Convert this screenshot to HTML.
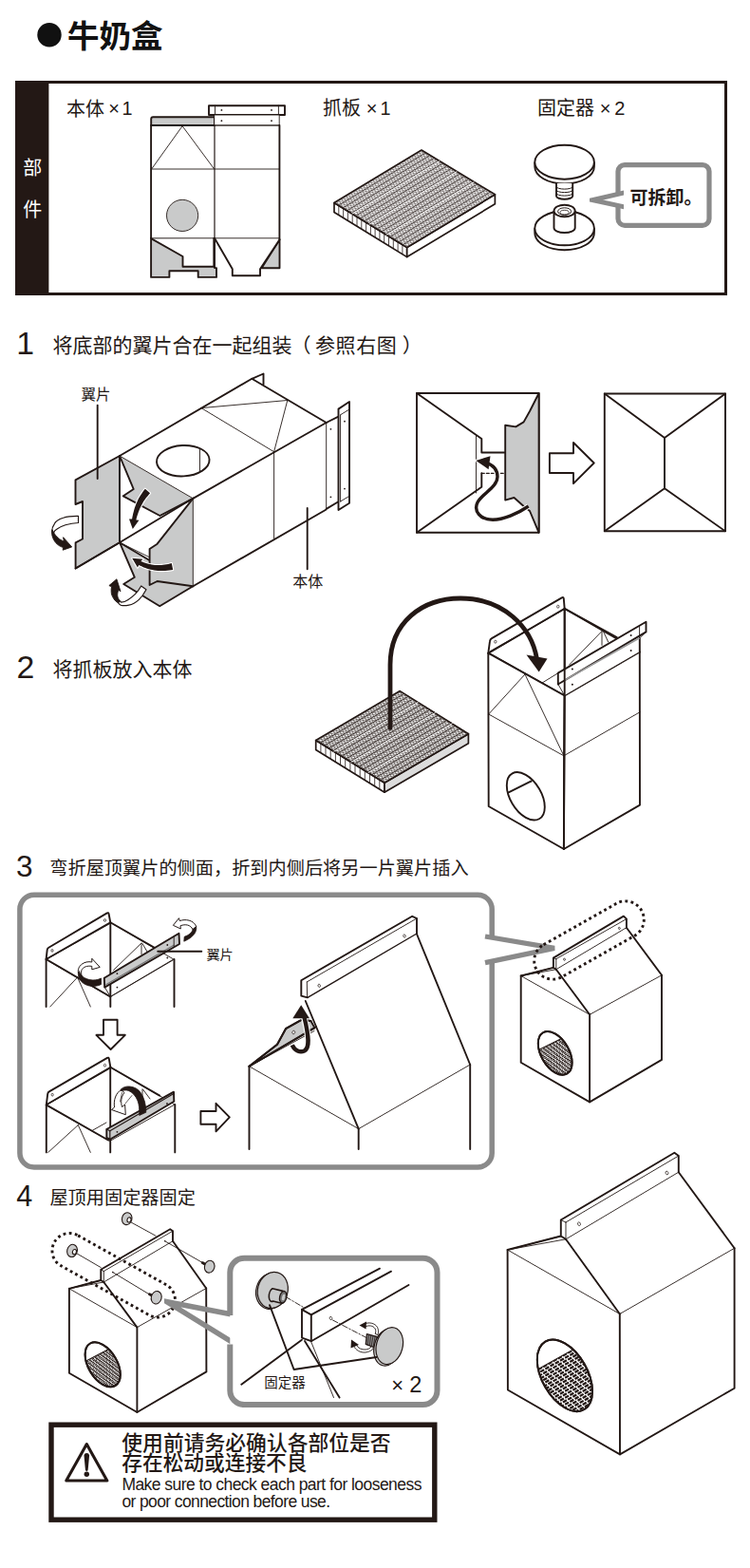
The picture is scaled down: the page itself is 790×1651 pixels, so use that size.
<!DOCTYPE html>
<html><head><meta charset="utf-8"><title>牛奶盒</title>
<style>
html,body{margin:0;padding:0;background:#fff;}
body{width:790px;height:1651px;overflow:hidden;font-family:"Liberation Sans",sans-serif;}
svg{display:block}
svg text{font-family:"Liberation Sans","Noto Sans CJK SC",sans-serif;}
</style></head><body>
<svg width="790" height="1651" viewBox="0 0 790 1651">
<rect width="790" height="1651" fill="#fff"/>
<g id="sec_top">
<circle cx="52" cy="36.7" r="12.7" fill="#111"/>
<text x="71" y="49.5" font-size="33.5" font-weight="bold" fill="#111">牛奶盒</text>
<rect x="17.5" y="86.5" width="747" height="223" fill="#fff" stroke="#231815" stroke-width="3"/>
<rect x="16" y="85" width="35.4" height="226" fill="#231815"/>
<text x="24.3" y="183.5" font-size="20" fill="#fff">部</text>
<text x="24.3" y="227.5" font-size="20" fill="#fff">件</text>
<text x="70" y="121.5" font-size="20" fill="#231815">本体</text>
<text x="120" y="121.2" font-size="20" fill="#231815" text-anchor="middle">×</text>
<text x="128.5" y="121.2" font-size="19.8" fill="#231815">1</text>
<text x="340" y="121.3" font-size="20" fill="#231815">抓板</text>
<text x="391.5" y="121.2" font-size="20" fill="#231815" text-anchor="middle">×</text>
<text x="400.5" y="121.2" font-size="19.8" fill="#231815">1</text>
<text x="566" y="121.3" font-size="20" fill="#231815">固定器</text>
<text x="637.5" y="121.2" font-size="20" fill="#231815" text-anchor="middle">×</text>
<text x="647.2" y="121.2" font-size="20" fill="#231815">2</text>
<path d="M159.2 132V125.3Q159.2 123.3 161.2 123.3H226V132Z" fill="#c9caca" stroke="#231815" stroke-width="1.9" stroke-linejoin="round" stroke-linecap="round" />
<polygon points="220,111.2 300,111.2 300,121 220,121" fill="#fff" stroke="#231815" stroke-width="1.9" stroke-linejoin="round" stroke-linecap="round" />
<line x1="226.5" y1="111.2" x2="226.5" y2="121" stroke="#231815" stroke-width="0.9" stroke-linecap="round" />
<line x1="293.4" y1="111.2" x2="293.4" y2="121" stroke="#231815" stroke-width="0.9" stroke-linecap="round" />
<polygon points="226,121 294.2,121 294.2,132 226,132" fill="#fff" stroke="#231815" stroke-width="0.9" stroke-linejoin="round" stroke-linecap="round" />
<circle cx="233.4" cy="115.9" r="0.9" fill="#231815"/>
<circle cx="286" cy="115.9" r="0.9" fill="#231815"/>
<circle cx="233.4" cy="127.2" r="0.9" fill="#231815"/>
<circle cx="286" cy="127.2" r="0.9" fill="#231815"/>
<polygon points="159.1,250.8 159.1,291.9 178.4,291.9 178.4,285.2 208.7,285.2 208.7,291.9 228,291.9 228,282.1 226,282.1 226,250.8" fill="#c9caca" stroke="none" stroke-width="0" stroke-linejoin="round" stroke-linecap="round" />
<polyline points="159.1,250.8 159.1,291.9 178.4,291.9 178.4,285.2 208.7,285.2 208.7,291.9 228,291.9 228,282.1 226,282.1 226,250.8" fill="none" stroke="#231815" stroke-width="1.9" stroke-linejoin="round" stroke-linecap="round" />
<polygon points="160,251.6 192.5,270 192.5,280.7 225.3,280.7 225.3,250.8" fill="#fff" stroke="none" stroke-width="0" stroke-linejoin="round" stroke-linecap="round" />
<polyline points="160,251.6 192.5,270 192.5,280.7 225.3,280.7 225.3,250.8" fill="none" stroke="#231815" stroke-width="1.9" stroke-linejoin="round" stroke-linecap="round" />
<polygon points="294.5,252.3 294.5,282.2 275.6,282.2" fill="#c9caca" stroke="#231815" stroke-width="1.9" stroke-linejoin="round" stroke-linecap="round" />
<polyline points="226.6,251.8 244.8,283.2 244.8,290.3 274,290.3 274,283.2 294.5,252.3" fill="#fff" stroke="#231815" stroke-width="1.9" stroke-linejoin="round" stroke-linecap="round" />
<polyline points="159.1,132 159.1,250.8" fill="none" stroke="#231815" stroke-width="1.9" stroke-linejoin="round" stroke-linecap="round" />
<polyline points="294.4,132 294.4,252" fill="none" stroke="#231815" stroke-width="1.9" stroke-linejoin="round" stroke-linecap="round" />
<line x1="159.1" y1="132" x2="294.4" y2="132" stroke="#231815" stroke-width="0.9" stroke-linecap="round" />
<line x1="226" y1="132" x2="226" y2="251" stroke="#231815" stroke-width="1.2" stroke-linecap="round" />
<line x1="159.1" y1="178" x2="294.4" y2="178" stroke="#231815" stroke-width="0.9" stroke-linecap="round" />
<line x1="159.1" y1="250.8" x2="294.4" y2="250.8" stroke="#231815" stroke-width="0.9" stroke-linecap="round" />
<polyline points="160,177.5 192.1,132.7 225.5,177.8" fill="none" stroke="#231815" stroke-width="0.9" stroke-linejoin="round" stroke-linecap="round" />
<circle cx="192.1" cy="226.9" r="16.6" fill="#c9caca" stroke="#231815" stroke-width="0.9"/>
<polygon points="352,213.5 428.7,260.6 428.7,270.6 352,223.5" fill="#fff" stroke="#231815" stroke-width="1.7" stroke-linejoin="round" stroke-linecap="round" />
<polygon points="428.7,260.6 521.4,204.8 521.4,214.8 428.7,270.6" fill="#fff" stroke="#231815" stroke-width="1.7" stroke-linejoin="round" stroke-linecap="round" />
<path d="M356.8 216.4v10M361.6 219.4v10M366.4 222.3v10M371.2 225.3v10M376 228.2v10M380.8 231.2v10M385.6 234.1v10M390.4 237.1v10M395.1 240v10M399.9 242.9v10M404.7 245.9v10M409.5 248.8v10M414.3 251.8v10M419.1 254.7v10M423.9 257.7v10" stroke="#231815" stroke-width="0.8" fill="none"/>
<polygon points="352,213.5 444,158 521.4,204.8 428.7,260.6" fill="#fff" stroke="#231815" stroke-width="1.7" stroke-linejoin="round" stroke-linecap="round" />
<path d="M356.5 216.3L448.5 160.8M361 219L453 163.5M365.5 221.8L457.5 166.3M370 224.6L462 169.1M374.6 227.4L466.6 171.9M379.1 230.1L471.1 174.6M383.6 232.9L475.6 177.4M388.1 235.7L480.1 180.2M392.6 238.4L484.6 182.9M397.1 241.2L489.1 185.7M401.6 244L493.6 188.5M406.1 246.7L498.1 191.2M410.7 249.5L502.7 194M415.2 252.3L507.2 196.8M419.7 255.1L511.7 199.6M424.2 257.8L516.2 202.3" stroke="#231815" stroke-width="0.7" fill="none"/>
<path d="M352 213.5L359.1 214.7L357.1 210.4L364.2 211.6L362.2 207.3L369.3 208.6L367.3 204.2L374.4 205.5L372.4 201.2L379.5 202.4L377.6 198.1L384.6 199.3L382.7 195L389.7 196.2L387.8 191.9L394.8 193.1L392.9 188.8L400 190.1L398 185.8L405.1 187L403.1 182.7L410.2 183.9L408.2 179.6L415.3 180.8L413.3 176.5L420.4 177.7L418.4 173.4L425.5 174.6L423.6 170.3L430.6 171.6L428.7 167.2L435.7 168.5L433.8 164.2L440.8 165.4L438.9 161.1L446 162.3L444 158M356.5 216.3L354.6 212L361.6 213.2L359.7 208.9L366.7 210.1L364.8 205.8L371.8 207L369.9 202.7L377 203.9L375 199.6L382.1 200.9L380.1 196.5L387.2 197.8L385.2 193.5L392.3 194.7L390.3 190.4L397.4 191.6L395.4 187.3L402.5 188.5L400.6 184.2L407.6 185.4L405.7 181.1L412.7 182.4L410.8 178L417.8 179.3L415.9 175L423 176.2L421 171.9L428.1 173.1L426.1 168.8L433.2 170L431.2 165.7L438.3 166.9L436.3 162.6L443.4 163.9L441.4 159.5L448.5 160.8M356.5 216.3L363.6 217.5L361.6 213.2L368.7 214.4L366.7 210.1L373.8 211.3L371.8 207L378.9 208.2L377 203.9L384 205.2L382.1 200.9L389.1 202.1L387.2 197.8L394.2 199L392.3 194.7L399.4 195.9L397.4 191.6L404.5 192.8L402.5 188.5L409.6 189.7L407.6 185.4L414.7 186.7L412.7 182.4L419.8 183.6L417.8 179.3L424.9 180.5L423 176.2L430 177.4L428.1 173.1L435.1 174.3L433.2 170L440.2 171.2L438.3 166.9L445.4 168.2L443.4 163.9L450.5 165.1L448.5 160.8M361 219L359.1 214.7L366.1 216L364.2 211.6L371.2 212.9L369.3 208.6L376.4 209.8L374.4 205.5L381.5 206.7L379.5 202.4L386.6 203.6L384.6 199.3L391.7 200.5L389.7 196.2L396.8 197.5L394.8 193.1L401.9 194.4L400 190.1L407 191.3L405.1 187L412.1 188.2L410.2 183.9L417.2 185.1L415.3 180.8L422.4 182L420.4 177.7L427.5 179L425.5 174.6L432.6 175.9L430.6 171.6L437.7 172.8L435.7 168.5L442.8 169.7L440.8 165.4L447.9 166.6L446 162.3L453 163.5M361 219L368.1 220.3L366.1 216L373.2 217.2L371.2 212.9L378.3 214.1L376.4 209.8L383.4 211L381.5 206.7L388.5 207.9L386.6 203.6L393.6 204.9L391.7 200.5L398.8 201.8L396.8 197.5L403.9 198.7L401.9 194.4L409 195.6L407 191.3L414.1 192.5L412.1 188.2L419.2 189.4L417.2 185.1L424.3 186.4L422.4 182L429.4 183.3L427.5 179L434.5 180.2L432.6 175.9L439.6 177.1L437.7 172.8L444.8 174L442.8 169.7L449.9 170.9L447.9 166.6L455 167.9L453 163.5M365.5 221.8L363.6 217.5L370.6 218.7L368.7 214.4L375.8 215.6L373.8 211.3L380.9 212.6L378.9 208.2L386 209.5L384 205.2L391.1 206.4L389.1 202.1L396.2 203.3L394.2 199L401.3 200.2L399.4 195.9L406.4 197.1L404.5 192.8L411.5 194.1L409.6 189.7L416.6 191L414.7 186.7L421.8 187.9L419.8 183.6L426.9 184.8L424.9 180.5L432 181.7L430 177.4L437.1 178.6L435.1 174.3L442.2 175.6L440.2 171.2L447.3 172.5L445.4 168.2L452.4 169.4L450.5 165.1L457.5 166.3M365.5 221.8L372.6 223L370.6 218.7L377.7 220L375.8 215.6L382.8 216.9L380.9 212.6L387.9 213.8L386 209.5L393 210.7L391.1 206.4L398.2 207.6L396.2 203.3L403.3 204.5L401.3 200.2L408.4 201.5L406.4 197.1L413.5 198.4L411.5 194.1L418.6 195.3L416.6 191L423.7 192.2L421.8 187.9L428.8 189.1L426.9 184.8L433.9 186L432 181.7L439 183L437.1 178.6L444.2 179.9L442.2 175.6L449.3 176.8L447.3 172.5L454.4 173.7L452.4 169.4L459.5 170.6L457.5 166.3M370 224.6L368.1 220.3L375.2 221.5L373.2 217.2L380.3 218.4L378.3 214.1L385.4 215.3L383.4 211L390.5 212.2L388.5 207.9L395.6 209.2L393.6 204.9L400.7 206.1L398.8 201.8L405.8 203L403.9 198.7L410.9 199.9L409 195.6L416 196.8L414.1 192.5L421.2 193.7L419.2 189.4L426.3 190.7L424.3 186.4L431.4 187.6L429.4 183.3L436.5 184.5L434.5 180.2L441.6 181.4L439.6 177.1L446.7 178.3L444.8 174L451.8 175.2L449.9 170.9L456.9 172.2L455 167.9L462 169.1M370 224.6L377.1 225.8L375.2 221.5L382.2 222.7L380.3 218.4L387.3 219.6L385.4 215.3L392.4 216.6L390.5 212.2L397.6 213.5L395.6 209.2L402.7 210.4L400.7 206.1L407.8 207.3L405.8 203L412.9 204.2L410.9 199.9L418 201.1L416 196.8L423.1 198.1L421.2 193.7L428.2 195L426.3 190.7L433.3 191.9L431.4 187.6L438.4 188.8L436.5 184.5L443.6 185.7L441.6 181.4L448.7 182.6L446.7 178.3L453.8 179.6L451.8 175.2L458.9 176.5L456.9 172.2L464 173.4L462 169.1M374.6 227.4L372.6 223L379.7 224.3L377.7 220L384.8 221.2L382.8 216.9L389.9 218.1L387.9 213.8L395 215L393 210.7L400.1 211.9L398.2 207.6L405.2 208.9L403.3 204.5L410.3 205.8L408.4 201.5L415.4 202.7L413.5 198.4L420.6 199.6L418.6 195.3L425.7 196.5L423.7 192.2L430.8 193.4L428.8 189.1L435.9 190.4L433.9 186L441 187.3L439 183L446.1 184.2L444.2 179.9L451.2 181.1L449.3 176.8L456.3 178L454.4 173.7L461.4 174.9L459.5 170.6L466.6 171.9M374.6 227.4L381.6 228.6L379.7 224.3L386.7 225.5L384.8 221.2L391.8 222.4L389.9 218.1L397 219.3L395 215L402.1 216.2L400.1 211.9L407.2 213.2L405.2 208.9L412.3 210.1L410.3 205.8L417.4 207L415.4 202.7L422.5 203.9L420.6 199.6L427.6 200.8L425.7 196.5L432.7 197.7L430.8 193.4L437.8 194.7L435.9 190.4L443 191.6L441 187.3L448.1 188.5L446.1 184.2L453.2 185.4L451.2 181.1L458.3 182.3L456.3 178L463.4 179.2L461.4 174.9L468.5 176.2L466.6 171.9M379.1 230.1L377.1 225.8L384.2 227L382.2 222.7L389.3 224L387.3 219.6L394.4 220.9L392.4 216.6L399.5 217.8L397.6 213.5L404.6 214.7L402.7 210.4L409.7 211.6L407.8 207.3L414.8 208.5L412.9 204.2L420 205.5L418 201.1L425.1 202.4L423.1 198.1L430.2 199.3L428.2 195L435.3 196.2L433.3 191.9L440.4 193.1L438.4 188.8L445.5 190L443.6 185.7L450.6 187L448.7 182.6L455.7 183.9L453.8 179.6L460.8 180.8L458.9 176.5L466 177.7L464 173.4L471.1 174.6M379.1 230.1L386.1 231.4L384.2 227L391.2 228.3L389.3 224L396.4 225.2L394.4 220.9L401.5 222.1L399.5 217.8L406.6 219L404.6 214.7L411.7 215.9L409.7 211.6L416.8 212.9L414.8 208.5L421.9 209.8L420 205.5L427 206.7L425.1 202.4L432.1 203.6L430.2 199.3L437.2 200.5L435.3 196.2L442.4 197.4L440.4 193.1L447.5 194.4L445.5 190L452.6 191.3L450.6 187L457.7 188.2L455.7 183.9L462.8 185.1L460.8 180.8L467.9 182L466 177.7L473 178.9L471.1 174.6M383.6 232.9L381.6 228.6L388.7 229.8L386.7 225.5L393.8 226.7L391.8 222.4L398.9 223.6L397 219.3L404 220.6L402.1 216.2L409.1 217.5L407.2 213.2L414.2 214.4L412.3 210.1L419.4 211.3L417.4 207L424.5 208.2L422.5 203.9L429.6 205.1L427.6 200.8L434.7 202.1L432.7 197.7L439.8 199L437.8 194.7L444.9 195.9L443 191.6L450 192.8L448.1 188.5L455.1 189.7L453.2 185.4L460.2 186.6L458.3 182.3L465.4 183.6L463.4 179.2L470.5 180.5L468.5 176.2L475.6 177.4M383.6 232.9L390.6 234.1L388.7 229.8L395.8 231L393.8 226.7L400.9 228L398.9 223.6L406 224.9L404 220.6L411.1 221.8L409.1 217.5L416.2 218.7L414.2 214.4L421.3 215.6L419.4 211.3L426.4 212.5L424.5 208.2L431.5 209.5L429.6 205.1L436.6 206.4L434.7 202.1L441.8 203.3L439.8 199L446.9 200.2L444.9 195.9L452 197.1L450 192.8L457.1 194L455.1 189.7L462.2 191L460.2 186.6L467.3 187.9L465.4 183.6L472.4 184.8L470.5 180.5L477.5 181.7L475.6 177.4M388.1 235.7L386.1 231.4L393.2 232.6L391.2 228.3L398.3 229.5L396.4 225.2L403.4 226.4L401.5 222.1L408.5 223.3L406.6 219L413.6 220.2L411.7 215.9L418.8 217.2L416.8 212.9L423.9 214.1L421.9 209.8L429 211L427 206.7L434.1 207.9L432.1 203.6L439.2 204.8L437.2 200.5L444.3 201.7L442.4 197.4L449.4 198.7L447.5 194.4L454.5 195.6L452.6 191.3L459.6 192.5L457.7 188.2L464.8 189.4L462.8 185.1L469.9 186.3L467.9 182L475 183.2L473 178.9L480.1 180.2M388.1 235.7L395.2 236.9L393.2 232.6L400.3 233.8L398.3 229.5L405.4 230.7L403.4 226.4L410.5 227.6L408.5 223.3L415.6 224.6L413.6 220.2L420.7 221.5L418.8 217.2L425.8 218.4L423.9 214.1L430.9 215.3L429 211L436.1 212.2L434.1 207.9L441.2 209.1L439.2 204.8L446.3 206.1L444.3 201.7L451.4 203L449.4 198.7L456.5 199.9L454.5 195.6L461.6 196.8L459.6 192.5L466.7 193.7L464.8 189.4L471.8 190.6L469.9 186.3L476.9 187.6L475 183.2L482.1 184.5L480.1 180.2M392.6 238.4L390.6 234.1L397.7 235.4L395.8 231L402.8 232.3L400.9 228L407.9 229.2L406 224.9L413.1 226.1L411.1 221.8L418.2 223L416.2 218.7L423.3 219.9L421.3 215.6L428.4 216.9L426.4 212.5L433.5 213.8L431.5 209.5L438.6 210.7L436.6 206.4L443.7 207.6L441.8 203.3L448.8 204.5L446.9 200.2L453.9 201.4L452 197.1L459.1 198.4L457.1 194L464.2 195.3L462.2 191L469.3 192.2L467.3 187.9L474.4 189.1L472.4 184.8L479.5 186L477.5 181.7L484.6 182.9M392.6 238.4L399.7 239.7L397.7 235.4L404.8 236.6L402.8 232.3L409.9 233.5L407.9 229.2L415 230.4L413.1 226.1L420.1 227.3L418.2 223L425.2 224.2L423.3 219.9L430.3 221.2L428.4 216.9L435.5 218.1L433.5 213.8L440.6 215L438.6 210.7L445.7 211.9L443.7 207.6L450.8 208.8L448.8 204.5L455.9 205.7L453.9 201.4L461 202.7L459.1 198.4L466.1 199.6L464.2 195.3L471.2 196.5L469.3 192.2L476.3 193.4L474.4 189.1L481.5 190.3L479.5 186L486.6 187.2L484.6 182.9M397.1 241.2L395.2 236.9L402.2 238.1L400.3 233.8L407.3 235L405.4 230.7L412.5 232L410.5 227.6L417.6 228.9L415.6 224.6L422.7 225.8L420.7 221.5L427.8 222.7L425.8 218.4L432.9 219.6L430.9 215.3L438 216.5L436.1 212.2L443.1 213.5L441.2 209.1L448.2 210.4L446.3 206.1L453.3 207.3L451.4 203L458.5 204.2L456.5 199.9L463.6 201.1L461.6 196.8L468.7 198L466.7 193.7L473.8 195L471.8 190.6L478.9 191.9L476.9 187.6L484 188.8L482.1 184.5L489.1 185.7M397.1 241.2L404.2 242.4L402.2 238.1L409.3 239.4L407.3 235L414.4 236.3L412.5 232L419.5 233.2L417.6 228.9L424.6 230.1L422.7 225.8L429.7 227L427.8 222.7L434.9 223.9L432.9 219.6L440 220.9L438 216.5L445.1 217.8L443.1 213.5L450.2 214.7L448.2 210.4L455.3 211.6L453.3 207.3L460.4 208.5L458.5 204.2L465.5 205.4L463.6 201.1L470.6 202.4L468.7 198L475.7 199.3L473.8 195L480.9 196.2L478.9 191.9L486 193.1L484 188.8L491.1 190L489.1 185.7M401.6 244L399.7 239.7L406.7 240.9L404.8 236.6L411.9 237.8L409.9 233.5L417 234.7L415 230.4L422.1 231.6L420.1 227.3L427.2 228.6L425.2 224.2L432.3 225.5L430.3 221.2L437.4 222.4L435.5 218.1L442.5 219.3L440.6 215L447.6 216.2L445.7 211.9L452.7 213.1L450.8 208.8L457.9 210.1L455.9 205.7L463 207L461 202.7L468.1 203.9L466.1 199.6L473.2 200.8L471.2 196.5L478.3 197.7L476.3 193.4L483.4 194.6L481.5 190.3L488.5 191.6L486.6 187.2L493.6 188.5M401.6 244L408.7 245.2L406.7 240.9L413.8 242.1L411.9 237.8L418.9 239L417 234.7L424 236L422.1 231.6L429.1 232.9L427.2 228.6L434.3 229.8L432.3 225.5L439.4 226.7L437.4 222.4L444.5 223.6L442.5 219.3L449.6 220.5L447.6 216.2L454.7 217.5L452.7 213.1L459.8 214.4L457.9 210.1L464.9 211.3L463 207L470 208.2L468.1 203.9L475.1 205.1L473.2 200.8L480.3 202L478.3 197.7L485.4 199L483.4 194.6L490.5 195.9L488.5 191.6L495.6 192.8L493.6 188.5M406.1 246.7L404.2 242.4L411.3 243.7L409.3 239.4L416.4 240.6L414.4 236.3L421.5 237.5L419.5 233.2L426.6 234.4L424.6 230.1L431.7 231.3L429.7 227L436.8 228.2L434.9 223.9L441.9 225.2L440 220.9L447 222.1L445.1 217.8L452.1 219L450.2 214.7L457.3 215.9L455.3 211.6L462.4 212.8L460.4 208.5L467.5 209.7L465.5 205.4L472.6 206.7L470.6 202.4L477.7 203.6L475.7 199.3L482.8 200.5L480.9 196.2L487.9 197.4L486 193.1L493 194.3L491.1 190L498.1 191.2M406.1 246.7L413.2 248L411.3 243.7L418.3 244.9L416.4 240.6L423.4 241.8L421.5 237.5L428.5 238.7L426.6 234.4L433.7 235.6L431.7 231.3L438.8 232.6L436.8 228.2L443.9 229.5L441.9 225.2L449 226.4L447 222.1L454.1 223.3L452.1 219L459.2 220.2L457.3 215.9L464.3 217.1L462.4 212.8L469.4 214.1L467.5 209.7L474.5 211L472.6 206.7L479.7 207.9L477.7 203.6L484.8 204.8L482.8 200.5L489.9 201.7L487.9 197.4L495 198.6L493 194.3L500.1 195.6L498.1 191.2M410.7 249.5L408.7 245.2L415.8 246.4L413.8 242.1L420.9 243.4L418.9 239L426 240.3L424 236L431.1 237.2L429.1 232.9L436.2 234.1L434.3 229.8L441.3 231L439.4 226.7L446.4 227.9L444.5 223.6L451.5 224.9L449.6 220.5L456.7 221.8L454.7 217.5L461.8 218.7L459.8 214.4L466.9 215.6L464.9 211.3L472 212.5L470 208.2L477.1 209.4L475.1 205.1L482.2 206.4L480.3 202L487.3 203.3L485.4 199L492.4 200.2L490.5 195.9L497.5 197.1L495.6 192.8L502.7 194M410.7 249.5L417.7 250.7L415.8 246.4L422.8 247.7L420.9 243.4L427.9 244.6L426 240.3L433.1 241.5L431.1 237.2L438.2 238.4L436.2 234.1L443.3 235.3L441.3 231L448.4 232.2L446.4 227.9L453.5 229.2L451.5 224.9L458.6 226.1L456.7 221.8L463.7 223L461.8 218.7L468.8 219.9L466.9 215.6L473.9 216.8L472 212.5L479.1 213.7L477.1 209.4L484.2 210.7L482.2 206.4L489.3 207.6L487.3 203.3L494.4 204.5L492.4 200.2L499.5 201.4L497.5 197.1L504.6 198.3L502.7 194M415.2 252.3L413.2 248L420.3 249.2L418.3 244.9L425.4 246.1L423.4 241.8L430.5 243L428.5 238.7L435.6 240L433.7 235.6L440.7 236.9L438.8 232.6L445.8 233.8L443.9 229.5L450.9 230.7L449 226.4L456.1 227.6L454.1 223.3L461.2 224.5L459.2 220.2L466.3 221.5L464.3 217.1L471.4 218.4L469.4 214.1L476.5 215.3L474.5 211L481.6 212.2L479.7 207.9L486.7 209.1L484.8 204.8L491.8 206L489.9 201.7L496.9 203L495 198.6L502.1 199.9L500.1 195.6L507.2 196.8M415.2 252.3L422.2 253.5L420.3 249.2L427.3 250.4L425.4 246.1L432.5 247.4L430.5 243L437.6 244.3L435.6 240L442.7 241.2L440.7 236.9L447.8 238.1L445.8 233.8L452.9 235L450.9 230.7L458 231.9L456.1 227.6L463.1 228.9L461.2 224.5L468.2 225.8L466.3 221.5L473.3 222.7L471.4 218.4L478.5 219.6L476.5 215.3L483.6 216.5L481.6 212.2L488.7 213.4L486.7 209.1L493.8 210.4L491.8 206L498.9 207.3L496.9 203L504 204.2L502.1 199.9L509.1 201.1L507.2 196.8M419.7 255.1L417.7 250.7L424.8 252L422.8 247.7L429.9 248.9L427.9 244.6L435 245.8L433.1 241.5L440.1 242.7L438.2 238.4L445.2 239.6L443.3 235.3L450.3 236.6L448.4 232.2L455.5 233.5L453.5 229.2L460.6 230.4L458.6 226.1L465.7 227.3L463.7 223L470.8 224.2L468.8 219.9L475.9 221.1L473.9 216.8L481 218.1L479.1 213.7L486.1 215L484.2 210.7L491.2 211.9L489.3 207.6L496.3 208.8L494.4 204.5L501.5 205.7L499.5 201.4L506.6 202.6L504.6 198.3L511.7 199.6M419.7 255.1L426.7 256.3L424.8 252L431.9 253.2L429.9 248.9L437 250.1L435 245.8L442.1 247L440.1 242.7L447.2 244L445.2 239.6L452.3 240.9L450.3 236.6L457.4 237.8L455.5 233.5L462.5 234.7L460.6 230.4L467.6 231.6L465.7 227.3L472.7 228.5L470.8 224.2L477.9 225.5L475.9 221.1L483 222.4L481 218.1L488.1 219.3L486.1 215L493.2 216.2L491.2 211.9L498.3 213.1L496.3 208.8L503.4 210L501.5 205.7L508.5 207L506.6 202.6L513.6 203.9L511.7 199.6M424.2 257.8L422.2 253.5L429.3 254.7L427.3 250.4L434.4 251.7L432.5 247.4L439.5 248.6L437.6 244.3L444.6 245.5L442.7 241.2L449.7 242.4L447.8 238.1L454.9 239.3L452.9 235L460 236.2L458 231.9L465.1 233.2L463.1 228.9L470.2 230.1L468.2 225.8L475.3 227L473.3 222.7L480.4 223.9L478.5 219.6L485.5 220.8L483.6 216.5L490.6 217.7L488.7 213.4L495.7 214.7L493.8 210.4L500.9 211.6L498.9 207.3L506 208.5L504 204.2L511.1 205.4L509.1 201.1L516.2 202.3M424.2 257.8L431.3 259.1L429.3 254.7L436.4 256L434.4 251.7L441.5 252.9L439.5 248.6L446.6 249.8L444.6 245.5L451.7 246.7L449.7 242.4L456.8 243.6L454.9 239.3L461.9 240.6L460 236.2L467 237.5L465.1 233.2L472.1 234.4L470.2 230.1L477.3 231.3L475.3 227L482.4 228.2L480.4 223.9L487.5 225.1L485.5 220.8L492.6 222.1L490.6 217.7L497.7 219L495.7 214.7L502.8 215.9L500.9 211.6L507.9 212.8L506 208.5L513 209.7L511.1 205.4L518.1 206.6L516.2 202.3M428.7 260.6L426.7 256.3L433.8 257.5L431.9 253.2L438.9 254.4L437 250.1L444 251.4L442.1 247L449.1 248.3L447.2 244L454.3 245.2L452.3 240.9L459.4 242.1L457.4 237.8L464.5 239L462.5 234.7L469.6 235.9L467.6 231.6L474.7 232.9L472.7 228.5L479.8 229.8L477.9 225.5L484.9 226.7L483 222.4L490 223.6L488.1 219.3L495.1 220.5L493.2 216.2L500.3 217.4L498.3 213.1L505.4 214.4L503.4 210L510.5 211.3L508.5 207L515.6 208.2L513.6 203.9L520.7 205.1" stroke="#231815" stroke-width="0.42" fill="none" stroke-linejoin="round"/>
<line x1="370.9" y1="225.1" x2="462.9" y2="169.6" stroke="#fff" stroke-width="0.8" stroke-linecap="round" />
<line x1="389" y1="236.2" x2="481" y2="180.7" stroke="#fff" stroke-width="0.8" stroke-linecap="round" />
<line x1="407" y1="247.3" x2="499" y2="191.8" stroke="#fff" stroke-width="0.8" stroke-linecap="round" />
<path d="M563.3 170.7v4.8a31.3 18 0 0 0 62.6 0v-4.8" fill="#fff" stroke="#231815" stroke-width="1.9"/>
<ellipse cx="594.6" cy="170.7" rx="31.3" ry="18" fill="#fff" stroke="#231815" stroke-width="1.9"/>
<path d="M586 193v13.5a8.6 3.2 0 0 0 17.2 0V193" fill="#fff" stroke="#231815" stroke-width="1.9"/>
<path d="M586 196.5a8.6 2.6 0 0 0 17.2 0" fill="none" stroke="#231815" stroke-width="1"/>
<path d="M586 200a8.6 2.6 0 0 0 17.2 0" fill="none" stroke="#231815" stroke-width="1"/>
<path d="M586 203.5a8.6 2.6 0 0 0 17.2 0" fill="none" stroke="#231815" stroke-width="1"/>
<path d="M563.3 240.3v5a31.3 18 0 0 0 62.6 0v-5" fill="#fff" stroke="#231815" stroke-width="1.9"/>
<ellipse cx="594.6" cy="240.3" rx="31.3" ry="18" fill="#fff" stroke="#231815" stroke-width="1.9"/>
<path d="M583.5 222v18a11.1 5 0 0 0 22.2 0v-18" fill="#fff" stroke="#231815" stroke-width="1.9"/>
<ellipse cx="594.6" cy="222" rx="11.1" ry="6.3" fill="#fff" stroke="#231815" stroke-width="1.9"/>
<ellipse cx="594.6" cy="222.6" rx="7" ry="3.8" fill="#fff" stroke="#231815" stroke-width="1"/>
<ellipse cx="594.6" cy="223.6" rx="4.6" ry="2.3" fill="none" stroke="#231815" stroke-width="0.8"/>
<path d="M651 204V180.6a7 7 0 0 1 7 -7H740a7 7 0 0 1 7 7V230.3a7 7 0 0 1 -7 7H658a7 7 0 0 1 -7 -7V217" fill="none" stroke="#8a8a8a" stroke-width="5.2"/>
<clipPath id="bubc"><rect x="621" y="190" width="36" height="40"/></clipPath>
<path d="M660 202.3L624.5 210.6L660 218.4" fill="none" stroke="#8a8a8a" stroke-width="5" stroke-linejoin="miter" stroke-miterlimit="8" clip-path="url(#bubc)"/>
<text x="663.5" y="214.5" font-size="19" font-weight="bold" fill="#231815">可拆卸。</text>
</g>
<g id="sec_s1">
<text x="17.3" y="372.9" font-size="33.8" fill="#231815">1</text>
<text x="55.5" y="370.5" font-size="21" fill="#231815">将底部的翼片合在一起组装</text>
<text x="306.5" y="370.5" font-size="21" fill="#231815">（</text>
<text x="332" y="370.5" font-size="21" fill="#231815" letter-spacing="0.6">参照右图</text>
<text x="423.7" y="370.5" font-size="21" fill="#231815">）</text>
<polygon points="126,480 265.3,398.8 343.7,445 203.3,524.8" fill="#fff" stroke="none" stroke-width="0" stroke-linejoin="round" stroke-linecap="round" />
<polyline points="126,480 265.3,398.8 343.7,445" fill="none" stroke="#231815" stroke-width="1.9" stroke-linejoin="round" stroke-linecap="round" />
<polygon points="203.3,524.8 343.7,445 343.7,535.9 343.2,536.7 203.3,617.3" fill="#fff" stroke="none" stroke-width="0" stroke-linejoin="round" stroke-linecap="round" />
<polyline points="203.3,524.8 343.7,445" fill="none" stroke="#231815" stroke-width="1.9" stroke-linejoin="round" stroke-linecap="round" />
<polyline points="343.2,536.7 203.3,617.3" fill="none" stroke="#231815" stroke-width="1.9" stroke-linejoin="round" stroke-linecap="round" />
<polyline points="265.3,398.8 277.5,393.5 277.5,404.8" fill="none" stroke="#231815" stroke-width="1.9" stroke-linejoin="round" stroke-linecap="round" />
<line x1="212" y1="429.6" x2="288.6" y2="475.7" stroke="#231815" stroke-width="0.9" stroke-linecap="round" />
<line x1="212" y1="429.6" x2="302.8" y2="421.5" stroke="#231815" stroke-width="0.9" stroke-linecap="round" />
<line x1="302.8" y1="421.5" x2="288.6" y2="475.7" stroke="#231815" stroke-width="0.9" stroke-linecap="round" />
<line x1="288.6" y1="475.7" x2="288.6" y2="567" stroke="#231815" stroke-width="0.9" stroke-linecap="round" />
<line x1="343.7" y1="445" x2="343.7" y2="535.9" stroke="#231815" stroke-width="0.9" stroke-linecap="round" />
<polyline points="343.7,445 356.5,438.7" fill="none" stroke="#231815" stroke-width="1.9" stroke-linejoin="round" stroke-linecap="round" />
<polyline points="343.7,535.9 356,528.5" fill="none" stroke="#231815" stroke-width="1.9" stroke-linejoin="round" stroke-linecap="round" />
<polygon points="356.5,430.6 368,423 368,529.8 356.5,537" fill="#fff" stroke="#231815" stroke-width="1.9" stroke-linejoin="round" stroke-linecap="round" />
<line x1="358.6" y1="437" x2="358.6" y2="528" stroke="#231815" stroke-width="0.9" stroke-linecap="round" />
<line x1="358.6" y1="436.8" x2="368" y2="431" stroke="#231815" stroke-width="0.9" stroke-linecap="round" />
<line x1="358.6" y1="528" x2="368" y2="522.3" stroke="#231815" stroke-width="0.9" stroke-linecap="round" />
<circle cx="348.4" cy="451.8" r="0.9" fill="#231815"/>
<circle cx="363" cy="443.7" r="0.9" fill="#231815"/>
<circle cx="348.4" cy="523.3" r="0.9" fill="#231815"/>
<circle cx="363" cy="514.6" r="0.9" fill="#231815"/>
<ellipse cx="192.8" cy="485.2" rx="27.8" ry="16.2" fill="#fff" stroke="#231815" stroke-width="1.9" transform="rotate(-3 192.8 485.2)"/>
<line x1="210.5" y1="472.5" x2="210.5" y2="497.4" stroke="#231815" stroke-width="0.9" stroke-linecap="round" />
<polygon points="126,480 79.5,505.4 79.5,531 87,528 87,567.5 79.6,571.4 79.6,598.5 126,571.2" fill="#c9caca" stroke="#231815" stroke-width="1.9" stroke-linejoin="round" stroke-linecap="round" />
<polygon points="126,480 140.7,515 129.8,522.3 168.4,543 203.3,524.8" fill="#c9caca" stroke="none" stroke-width="0" stroke-linejoin="round" stroke-linecap="round" />
<polyline points="126,480 140.7,515 129.8,522.3 168.4,543 203.3,524.8" fill="none" stroke="#231815" stroke-width="1.9" stroke-linejoin="round" stroke-linecap="round" />
<polyline points="126,480 203.3,524.8" fill="none" stroke="#231815" stroke-width="0.9" stroke-linejoin="round" stroke-linecap="round" />
<polygon points="126,571.2 141.8,607.8 130.2,615 168.2,638.2 203.3,617.3" fill="#c9caca" stroke="#231815" stroke-width="1.9" stroke-linejoin="round" stroke-linecap="round" />
<line x1="126" y1="571.2" x2="157.6" y2="586.8" stroke="#231815" stroke-width="0.9" stroke-linecap="round" />
<polygon points="203.3,524.8 165.6,572.7 157.6,578 157.6,616 165.6,612 203.3,617.3" fill="#c9caca" stroke="none" stroke-width="0" stroke-linejoin="round" stroke-linecap="round" />
<polyline points="203.3,524.8 165.6,572.7 157.6,578 157.6,616 165.6,612 203.3,617.3" fill="none" stroke="#231815" stroke-width="1.9" stroke-linejoin="round" stroke-linecap="round" />
<polyline points="203.3,524.8 203.3,617.3" fill="none" stroke="#231815" stroke-width="0.9" stroke-linejoin="round" stroke-linecap="round" />
<polyline points="79.6,598.5 126,571.2 203.3,524.8" fill="none" stroke="#231815" stroke-width="1.9" stroke-linejoin="round" stroke-linecap="round" />
<line x1="126" y1="480" x2="126" y2="571.2" stroke="#231815" stroke-width="1.2" stroke-linecap="round" />
<line x1="168.4" y1="543" x2="203.3" y2="525.5" stroke="#231815" stroke-width="0.9" stroke-linecap="round" />
<path d="M152.9 514.7L151.8 516.1L150.7 517.5L149.7 518.9L148.7 520.4L147.7 522L146.8 523.5L145.9 525.1L145.1 526.7L144.4 528.4L143.6 530.1L143 531.8L142.3 533.5L141.7 535.3L141.2 537.1L140.7 538.9L140.2 540.8L139.8 542.7L139.4 544.6L139.1 546.6L136 546.4L139.8 557L146.4 547.8L143.4 547.4L143.8 545.6L144.3 543.8L144.9 542.1L145.4 540.4L146 538.7L146.7 537.1L147.3 535.5L148 533.9L148.8 532.4L149.6 530.9L150.4 529.5L151.2 528.1L152.1 526.7L153 525.4L154 524.1L155 522.9L156 521.7L157 520.5L158.1 519.3Z" fill="#fff" stroke="#fff" stroke-width="2.2" stroke-linejoin="round"/><path d="M152.9 514.7L151.8 516.1L150.7 517.5L149.7 518.9L148.7 520.4L147.7 522L146.8 523.5L145.9 525.1L145.1 526.7L144.4 528.4L143.6 530.1L143 531.8L142.3 533.5L141.7 535.3L141.2 537.1L140.7 538.9L140.2 540.8L139.8 542.7L139.4 544.6L139.1 546.6L136 546.4L139.8 557L146.4 547.8L143.4 547.4L143.8 545.6L144.3 543.8L144.9 542.1L145.4 540.4L146 538.7L146.7 537.1L147.3 535.5L148 533.9L148.8 532.4L149.6 530.9L150.4 529.5L151.2 528.1L152.1 526.7L153 525.4L154 524.1L155 522.9L156 521.7L157 520.5L158.1 519.3Z" fill="#231815"/>
<path d="M180.8 593.1L178.9 593.6L177.1 594L175.3 594.3L173.5 594.6L171.7 594.8L170 594.9L168.2 595L166.5 595L164.8 595L163.1 594.9L161.4 594.7L159.7 594.4L158.1 594.1L156.4 593.7L154.7 593.3L153.1 592.8L151.5 592.2L149.9 591.6L148.3 590.9L150.5 588.7L139.2 587.8L144.9 597.6L146.2 594.9L147.9 595.8L149.6 596.6L151.4 597.4L153.2 598.1L155 598.7L156.8 599.2L158.6 599.7L160.5 600.1L162.4 600.5L164.3 600.7L166.2 600.9L168.2 601.1L170.1 601.1L172.1 601.1L174.1 601L176.1 600.8L178.2 600.6L180.2 600.3L182.2 599.9Z" fill="#fff" stroke="#fff" stroke-width="2.2" stroke-linejoin="round"/><path d="M180.8 593.1L178.9 593.6L177.1 594L175.3 594.3L173.5 594.6L171.7 594.8L170 594.9L168.2 595L166.5 595L164.8 595L163.1 594.9L161.4 594.7L159.7 594.4L158.1 594.1L156.4 593.7L154.7 593.3L153.1 592.8L151.5 592.2L149.9 591.6L148.3 590.9L150.5 588.7L139.2 587.8L144.9 597.6L146.2 594.9L147.9 595.8L149.6 596.6L151.4 597.4L153.2 598.1L155 598.7L156.8 599.2L158.6 599.7L160.5 600.1L162.4 600.5L164.3 600.7L166.2 600.9L168.2 601.1L170.1 601.1L172.1 601.1L174.1 601L176.1 600.8L178.2 600.6L180.2 600.3L182.2 599.9Z" fill="#231815"/>
<path d="M82.5 543.3C76 543.2 70 544 66.6 545.2C61 547 58 550 57.5 551.3C55.5 554 54.6 557 54.8 559.5L56.5 561C57 559.5 58.5 558 59.7 557.3C62 555.5 65 554 68.9 552.8C73 551.5 78 550.6 82.5 550.5Z" fill="#fff" stroke="#231815" stroke-width="1.2" stroke-linejoin="round" stroke-linecap="round" />
<path d="M54.8 558C54 562 55 567 59 571.8C61 574 63.5 575.5 66.5 576.5L66.2 579.2L75.7 575.9L66.6 565.7L67.3 570C64.5 569 62.5 567.5 61.3 566.4C59 564.5 57.5 562.5 56.3 560Z" fill="#231815" stroke="#231815" stroke-width="0.9" stroke-linejoin="round" stroke-linecap="round" />
<path d="M148.7 617L154 620.8C151.5 625.5 149 629 146.4 631.4C143 634.5 139.5 636.5 135.8 637.1C133 637.7 130 637.8 127.8 637.5C126.5 637 125.3 636 124.4 634.5L125.9 632.2C126.5 633.2 127 633.8 127.8 634.1C130 634 132.5 633 135 631.4C138 629.5 140.5 627.5 142.6 625.4C145 623 147 620 148.7 617Z" fill="#fff" stroke="#231815" stroke-width="1.2" stroke-linejoin="round" stroke-linecap="round" />
<path d="M124.4 634.8C122 633.5 120.3 631.5 119.1 629.2C117.8 627 117.2 625 117.2 623C117 621 117.2 619.5 117.6 617.8L114.9 616.6L122.9 609.8L127 622.7L124.8 621.2C124 623 123.6 625 123.7 626.9C124 629 124.8 630.8 125.9 632.2Z" fill="#231815" stroke="#231815" stroke-width="0.9" stroke-linejoin="round" stroke-linecap="round" />
<text x="85.5" y="421.3" font-size="15.5" fill="#231815">翼片</text>
<line x1="102.7" y1="426.8" x2="102.7" y2="504" stroke="#231815" stroke-width="1.9" stroke-linecap="round" />
<text x="308.3" y="618" font-size="16" fill="#231815">本体</text>
<line x1="323.7" y1="535" x2="323.7" y2="599.2" stroke="#231815" stroke-width="1.9" stroke-linecap="round" />
<polygon points="439,414 567.6,414 567.6,560.8 439,560.8" fill="#fff" stroke="#231815" stroke-width="1.9" stroke-linejoin="round" stroke-linecap="round" />
<polygon points="567.6,414 558,433 551.6,444.4 543.3,449.4 532.2,447.7 532.2,526.6 541.5,524 551.6,533 558,538 567.6,560.8" fill="#c9caca" stroke="#231815" stroke-width="1.9" stroke-linejoin="round" stroke-linecap="round" />
<polyline points="439,414 504.8,460.3 507.3,462 507.3,476.5 531.4,476.5" fill="none" stroke="#231815" stroke-width="1.9" stroke-linejoin="round" stroke-linecap="round" />
<polyline points="439,560.8 507.3,512.7 507.3,498.3" fill="none" stroke="#231815" stroke-width="1.9" stroke-linejoin="round" stroke-linecap="round" />
<line x1="507.3" y1="498.3" x2="531.4" y2="498.3" stroke="#231815" stroke-width="1.2" stroke-linecap="round" stroke-dasharray="3 2"/>
<line x1="501.5" y1="458.3" x2="501.5" y2="519" stroke="#231815" stroke-width="0.9" stroke-linecap="round" />
<path d="M556.7 533C545 541 530 547.3 519 547.3C506 547.3 498.5 538 503 529C507.5 520 524 513 524 502C524 494 519 489.5 512.5 487.3" fill="none" stroke="#fff" stroke-width="5.6" stroke-linecap="butt"/>
<polygon points="516.5,480.3 501.3,484.9 514.6,494.2" fill="#231815" stroke="#fff" stroke-width="2.2" stroke-linejoin="miter"/>
<path d="M556.7 533C545 541 530 547.3 519 547.3C506 547.3 498.5 538 503 529C507.5 520 524 513 524 502C524 494 519 489.5 512.5 487.3" fill="none" stroke="#231815" stroke-width="3.4" stroke-linecap="butt"/>
<polygon points="516.5,480.3 501.3,484.9 514.6,494.2" fill="#231815"/>
<polygon points="578.9,477.2 604,477.2 604,466 625.7,487.5 604,509.2 604,498 578.9,498" fill="#fff" stroke="#231815" stroke-width="1.9" stroke-linejoin="round" stroke-linecap="round" />
<polygon points="636.8,414.5 764,414.5 764,559.3 636.8,559.3" fill="#fff" stroke="#231815" stroke-width="1.9" stroke-linejoin="round" stroke-linecap="round" />
<polyline points="636.8,414.5 700,461 764,414.5" fill="none" stroke="#231815" stroke-width="1.9" stroke-linejoin="round" stroke-linecap="round" />
<polyline points="636.8,559.3 700,514.2 764,559.3" fill="none" stroke="#231815" stroke-width="1.9" stroke-linejoin="round" stroke-linecap="round" />
<polyline points="700,461 700,514.2" fill="none" stroke="#231815" stroke-width="1.9" stroke-linejoin="round" stroke-linecap="round" />
</g>
<g id="sec_s2">
<text x="17.5" y="714.4" font-size="33.8" fill="#231815">2</text>
<text x="55.5" y="712" font-size="21" fill="#231815">将抓板放入本体</text>
<polygon points="332.7,779.5 405,824.2 405,834.2 332.7,789.5" fill="#fff" stroke="#231815" stroke-width="1.7" stroke-linejoin="round" stroke-linecap="round" />
<polygon points="405,824.2 493.4,772.7 493.4,782.7 405,834.2" fill="#dcdcdc" stroke="#231815" stroke-width="1.7" stroke-linejoin="round" stroke-linecap="round" />
<path d="M337.9 782.7v10M343 785.9v10M348.2 789.1v10M353.4 792.3v10M358.5 795.5v10M363.7 798.7v10M368.9 801.9v10M374 805v10M379.2 808.2v10M384.3 811.4v10M389.5 814.6v10M394.7 817.8v10M399.8 821v10" stroke="#231815" stroke-width="0.8" fill="none"/>
<polygon points="332.7,779.5 421.3,727.6 493.4,772.7 405,824.2" fill="#fff" stroke="#231815" stroke-width="1.7" stroke-linejoin="round" stroke-linecap="round" />
<path d="M337.2 782.3L425.8 730.4M341.7 785.1L430.3 733.2M346.3 787.9L434.9 736M350.8 790.7L439.4 738.8M355.3 793.5L443.9 741.6M359.8 796.3L448.4 744.4M364.3 799.1L452.9 747.2M368.9 801.9L457.5 750M373.4 804.6L462 752.7M377.9 807.4L466.5 755.5M382.4 810.2L471 758.3M386.9 813L475.5 761.1M391.4 815.8L480 763.9M396 818.6L484.6 766.7M400.5 821.4L489.1 769.5" stroke="#231815" stroke-width="0.8" fill="none"/>
<path d="M332.7 779.5L339.8 780.8L337.9 776.4L345 777.7L343.1 773.4L350.2 774.7L348.3 770.3L355.5 771.6L353.5 767.3L360.7 768.6L358.8 764.2L365.9 765.5L364 761.2L371.1 762.4L369.2 758.1L376.3 759.4L374.4 755.1L381.5 756.3L379.6 752L386.7 753.3L384.8 749L391.9 750.2L390 745.9L397.2 747.2L395.2 742.9L402.4 744.1L400.5 739.8L407.6 741.1L405.7 736.8L412.8 738L410.9 733.7L418 735L416.1 730.7L423.2 731.9L421.3 727.6M337.2 782.3L335.3 778L342.4 779.2L340.5 774.9L347.6 776.2L345.7 771.9L352.9 773.1L350.9 768.8L358.1 770.1L356.2 765.8L363.3 767L361.4 762.7L368.5 764L366.6 759.7L373.7 760.9L371.8 756.6L378.9 757.9L377 753.5L384.1 754.8L382.2 750.5L389.3 751.8L387.4 747.4L394.5 748.7L392.6 744.4L399.8 745.7L397.8 741.3L405 742.6L403.1 738.3L410.2 739.6L408.3 735.2L415.4 736.5L413.5 732.2L420.6 733.4L418.7 729.1L425.8 730.4M337.2 782.3L344.3 783.6L342.4 779.2L349.6 780.5L347.6 776.2L354.8 777.5L352.9 773.1L360 774.4L358.1 770.1L365.2 771.3L363.3 767L370.4 768.3L368.5 764L375.6 765.2L373.7 760.9L380.8 762.2L378.9 757.9L386 759.1L384.1 754.8L391.2 756.1L389.3 751.8L396.5 753L394.5 748.7L401.7 750L399.8 745.7L406.9 746.9L405 742.6L412.1 743.9L410.2 739.6L417.3 740.8L415.4 736.5L422.5 737.8L420.6 733.4L427.7 734.7L425.8 730.4M341.7 785.1L339.8 780.8L346.9 782L345 777.7L352.2 779L350.2 774.7L357.4 775.9L355.5 771.6L362.6 772.9L360.7 768.6L367.8 769.8L365.9 765.5L373 766.8L371.1 762.4L378.2 763.7L376.3 759.4L383.4 760.7L381.5 756.3L388.6 757.6L386.7 753.3L393.9 754.6L391.9 750.2L399.1 751.5L397.2 747.2L404.3 748.5L402.4 744.1L409.5 745.4L407.6 741.1L414.7 742.3L412.8 738L419.9 739.3L418 735L425.1 736.2L423.2 731.9L430.3 733.2M341.7 785.1L348.9 786.4L346.9 782L354.1 783.3L352.2 779L359.3 780.2L357.4 775.9L364.5 777.2L362.6 772.9L369.7 774.1L367.8 769.8L374.9 771.1L373 766.8L380.1 768L378.2 763.7L385.3 765L383.4 760.7L390.6 761.9L388.6 757.6L395.8 758.9L393.9 754.6L401 755.8L399.1 751.5L406.2 752.8L404.3 748.5L411.4 749.7L409.5 745.4L416.6 746.7L414.7 742.3L421.8 743.6L419.9 739.3L427 740.6L425.1 736.2L432.3 737.5L430.3 733.2M346.3 787.9L344.3 783.6L351.5 784.8L349.6 780.5L356.7 781.8L354.8 777.5L361.9 778.7L360 774.4L367.1 775.7L365.2 771.3L372.3 772.6L370.4 768.3L377.5 769.6L375.6 765.2L382.7 766.5L380.8 762.2L388 763.5L386 759.1L393.2 760.4L391.2 756.1L398.4 757.4L396.5 753L403.6 754.3L401.7 750L408.8 751.2L406.9 746.9L414 748.2L412.1 743.9L419.2 745.1L417.3 740.8L424.4 742.1L422.5 737.8L429.6 739L427.7 734.7L434.9 736M346.3 787.9L353.4 789.1L351.5 784.8L358.6 786.1L356.7 781.8L363.8 783L361.9 778.7L369 780L367.1 775.7L374.2 776.9L372.3 772.6L379.4 773.9L377.5 769.6L384.7 770.8L382.7 766.5L389.9 767.8L388 763.5L395.1 764.7L393.2 760.4L400.3 761.7L398.4 757.4L405.5 758.6L403.6 754.3L410.7 755.6L408.8 751.2L415.9 752.5L414 748.2L421.1 749.5L419.2 745.1L426.3 746.4L424.4 742.1L431.6 743.4L429.6 739L436.8 740.3L434.9 736M350.8 790.7L348.9 786.4L356 787.6L354.1 783.3L361.2 784.6L359.3 780.2L366.4 781.5L364.5 777.2L371.6 778.5L369.7 774.1L376.8 775.4L374.9 771.1L382 772.4L380.1 768L387.3 769.3L385.3 765L392.5 766.3L390.6 761.9L397.7 763.2L395.8 758.9L402.9 760.1L401 755.8L408.1 757.1L406.2 752.8L413.3 754L411.4 749.7L418.5 751L416.6 746.7L423.7 747.9L421.8 743.6L429 744.9L427 740.6L434.2 741.8L432.3 737.5L439.4 738.8M350.8 790.7L357.9 791.9L356 787.6L363.1 788.9L361.2 784.6L368.3 785.8L366.4 781.5L373.5 782.8L371.6 778.5L378.7 779.7L376.8 775.4L384 776.7L382 772.4L389.2 773.6L387.3 769.3L394.4 770.6L392.5 766.3L399.6 767.5L397.7 763.2L404.8 764.5L402.9 760.1L410 761.4L408.1 757.1L415.2 758.4L413.3 754L420.4 755.3L418.5 751L425.7 752.3L423.7 747.9L430.9 749.2L429 744.9L436.1 746.1L434.2 741.8L441.3 743.1L439.4 738.8M355.3 793.5L353.4 789.1L360.5 790.4L358.6 786.1L365.7 787.4L363.8 783L370.9 784.3L369 780L376.1 781.3L374.2 776.9L381.4 778.2L379.4 773.9L386.6 775.2L384.7 770.8L391.8 772.1L389.9 767.8L397 769L395.1 764.7L402.2 766L400.3 761.7L407.4 762.9L405.5 758.6L412.6 759.9L410.7 755.6L417.8 756.8L415.9 752.5L423 753.8L421.1 749.5L428.3 750.7L426.3 746.4L433.5 747.7L431.6 743.4L438.7 744.6L436.8 740.3L443.9 741.6M355.3 793.5L362.4 794.7L360.5 790.4L367.6 791.7L365.7 787.4L372.8 788.6L370.9 784.3L378.1 785.6L376.1 781.3L383.3 782.5L381.4 778.2L388.5 779.5L386.6 775.2L393.7 776.4L391.8 772.1L398.9 773.4L397 769L404.1 770.3L402.2 766L409.3 767.3L407.4 762.9L414.5 764.2L412.6 759.9L419.7 761.2L417.8 756.8L425 758.1L423 753.8L430.2 755L428.3 750.7L435.4 752L433.5 747.7L440.6 748.9L438.7 744.6L445.8 745.9L443.9 741.6M359.8 796.3L357.9 791.9L365 793.2L363.1 788.9L370.2 790.2L368.3 785.8L375.4 787.1L373.5 782.8L380.7 784.1L378.7 779.7L385.9 781L384 776.7L391.1 777.9L389.2 773.6L396.3 774.9L394.4 770.6L401.5 771.8L399.6 767.5L406.7 768.8L404.8 764.5L411.9 765.7L410 761.4L417.1 762.7L415.2 758.4L422.4 759.6L420.4 755.3L427.6 756.6L425.7 752.3L432.8 753.5L430.9 749.2L438 750.5L436.1 746.1L443.2 747.4L441.3 743.1L448.4 744.4M359.8 796.3L366.9 797.5L365 793.2L372.1 794.5L370.2 790.2L377.4 791.4L375.4 787.1L382.6 788.4L380.7 784.1L387.8 785.3L385.9 781L393 782.3L391.1 777.9L398.2 779.2L396.3 774.9L403.4 776.2L401.5 771.8L408.6 773.1L406.7 768.8L413.8 770.1L411.9 765.7L419.1 767L417.1 762.7L424.3 763.9L422.4 759.6L429.5 760.9L427.6 756.6L434.7 757.8L432.8 753.5L439.9 754.8L438 750.5L445.1 751.7L443.2 747.4L450.3 748.7L448.4 744.4M364.3 799.1L362.4 794.7L369.5 796L367.6 791.7L374.8 793L372.8 788.6L380 789.9L378.1 785.6L385.2 786.8L383.3 782.5L390.4 783.8L388.5 779.5L395.6 780.7L393.7 776.4L400.8 777.7L398.9 773.4L406 774.6L404.1 770.3L411.2 771.6L409.3 767.3L416.4 768.5L414.5 764.2L421.7 765.5L419.7 761.2L426.9 762.4L425 758.1L432.1 759.4L430.2 755L437.3 756.3L435.4 752L442.5 753.3L440.6 748.9L447.7 750.2L445.8 745.9L452.9 747.2M364.3 799.1L371.5 800.3L369.5 796L376.7 797.3L374.8 793L381.9 794.2L380 789.9L387.1 791.2L385.2 786.8L392.3 788.1L390.4 783.8L397.5 785.1L395.6 780.7L402.7 782L400.8 777.7L407.9 779L406 774.6L413.1 775.9L411.2 771.6L418.4 772.8L416.4 768.5L423.6 769.8L421.7 765.5L428.8 766.7L426.9 762.4L434 763.7L432.1 759.4L439.2 760.6L437.3 756.3L444.4 757.6L442.5 753.3L449.6 754.5L447.7 750.2L454.8 751.5L452.9 747.2M368.9 801.9L366.9 797.5L374.1 798.8L372.1 794.5L379.3 795.7L377.4 791.4L384.5 792.7L382.6 788.4L389.7 789.6L387.8 785.3L394.9 786.6L393 782.3L400.1 783.5L398.2 779.2L405.3 780.5L403.4 776.2L410.5 777.4L408.6 773.1L415.8 774.4L413.8 770.1L421 771.3L419.1 767L426.2 768.3L424.3 763.9L431.4 765.2L429.5 760.9L436.6 762.2L434.7 757.8L441.8 759.1L439.9 754.8L447 756.1L445.1 751.7L452.2 753L450.3 748.7L457.5 750M368.9 801.9L376 803.1L374.1 798.8L381.2 800.1L379.3 795.7L386.4 797L384.5 792.7L391.6 794L389.7 789.6L396.8 790.9L394.9 786.6L402 787.9L400.1 783.5L407.2 784.8L405.3 780.5L412.5 781.7L410.5 777.4L417.7 778.7L415.8 774.4L422.9 775.6L421 771.3L428.1 772.6L426.2 768.3L433.3 769.5L431.4 765.2L438.5 766.5L436.6 762.2L443.7 763.4L441.8 759.1L448.9 760.4L447 756.1L454.2 757.3L452.2 753L459.4 754.3L457.5 750M373.4 804.6L371.5 800.3L378.6 801.6L376.7 797.3L383.8 798.5L381.9 794.2L389 795.5L387.1 791.2L394.2 792.4L392.3 788.1L399.4 789.4L397.5 785.1L404.6 786.3L402.7 782L409.9 783.3L407.9 779L415.1 780.2L413.1 775.9L420.3 777.2L418.4 772.8L425.5 774.1L423.6 769.8L430.7 771.1L428.8 766.7L435.9 768L434 763.7L441.1 765L439.2 760.6L446.3 761.9L444.4 757.6L451.5 758.8L449.6 754.5L456.8 755.8L454.8 751.5L462 752.7M373.4 804.6L380.5 805.9L378.6 801.6L385.7 802.9L383.8 798.5L390.9 799.8L389 795.5L396.1 796.8L394.2 792.4L401.3 793.7L399.4 789.4L406.6 790.6L404.6 786.3L411.8 787.6L409.9 783.3L417 784.5L415.1 780.2L422.2 781.5L420.3 777.2L427.4 778.4L425.5 774.1L432.6 775.4L430.7 771.1L437.8 772.3L435.9 768L443 769.3L441.1 765L448.2 766.2L446.3 761.9L453.5 763.2L451.5 758.8L458.7 760.1L456.8 755.8L463.9 757.1L462 752.7M377.9 807.4L376 803.1L383.1 804.4L381.2 800.1L388.3 801.3L386.4 797L393.5 798.3L391.6 794L398.7 795.2L396.8 790.9L403.9 792.2L402 787.9L409.2 789.1L407.2 784.8L414.4 786.1L412.5 781.7L419.6 783L417.7 778.7L424.8 780L422.9 775.6L430 776.9L428.1 772.6L435.2 773.9L433.3 769.5L440.4 770.8L438.5 766.5L445.6 767.7L443.7 763.4L450.9 764.7L448.9 760.4L456.1 761.6L454.2 757.3L461.3 758.6L459.4 754.3L466.5 755.5M377.9 807.4L385 808.7L383.1 804.4L390.2 805.7L388.3 801.3L395.4 802.6L393.5 798.3L400.6 799.5L398.7 795.2L405.9 796.5L403.9 792.2L411.1 793.4L409.2 789.1L416.3 790.4L414.4 786.1L421.5 787.3L419.6 783L426.7 784.3L424.8 780L431.9 781.2L430 776.9L437.1 778.2L435.2 773.9L442.3 775.1L440.4 770.8L447.6 772.1L445.6 767.7L452.8 769L450.9 764.7L458 766L456.1 761.6L463.2 762.9L461.3 758.6L468.4 759.9L466.5 755.5M382.4 810.2L380.5 805.9L387.6 807.2L385.7 802.9L392.8 804.1L390.9 799.8L398 801.1L396.1 796.8L403.3 798L401.3 793.7L408.5 795L406.6 790.6L413.7 791.9L411.8 787.6L418.9 788.9L417 784.5L424.1 785.8L422.2 781.5L429.3 782.8L427.4 778.4L434.5 779.7L432.6 775.4L439.7 776.6L437.8 772.3L444.9 773.6L443 769.3L450.2 770.5L448.2 766.2L455.4 767.5L453.5 763.2L460.6 764.4L458.7 760.1L465.8 761.4L463.9 757.1L471 758.3M382.4 810.2L389.5 811.5L387.6 807.2L394.7 808.4L392.8 804.1L400 805.4L398 801.1L405.2 802.3L403.3 798L410.4 799.3L408.5 795L415.6 796.2L413.7 791.9L420.8 793.2L418.9 788.9L426 790.1L424.1 785.8L431.2 787.1L429.3 782.8L436.4 784L434.5 779.7L441.6 781L439.7 776.6L446.9 777.9L444.9 773.6L452.1 774.9L450.2 770.5L457.3 771.8L455.4 767.5L462.5 768.8L460.6 764.4L467.7 765.7L465.8 761.4L472.9 762.7L471 758.3M386.9 813L385 808.7L392.1 810L390.2 805.7L397.3 806.9L395.4 802.6L402.6 803.9L400.6 799.5L407.8 800.8L405.9 796.5L413 797.8L411.1 793.4L418.2 794.7L416.3 790.4L423.4 791.7L421.5 787.3L428.6 788.6L426.7 784.3L433.8 785.5L431.9 781.2L439 782.5L437.1 778.2L444.3 779.4L442.3 775.1L449.5 776.4L447.6 772.1L454.7 773.3L452.8 769L459.9 770.3L458 766L465.1 767.2L463.2 762.9L470.3 764.2L468.4 759.9L475.5 761.1M386.9 813L394 814.3L392.1 810L399.3 811.2L397.3 806.9L404.5 808.2L402.6 803.9L409.7 805.1L407.8 800.8L414.9 802.1L413 797.8L420.1 799L418.2 794.7L425.3 796L423.4 791.7L430.5 792.9L428.6 788.6L435.7 789.9L433.8 785.5L441 786.8L439 782.5L446.2 783.8L444.3 779.4L451.4 780.7L449.5 776.4L456.6 777.7L454.7 773.3L461.8 774.6L459.9 770.3L467 771.6L465.1 767.2L472.2 768.5L470.3 764.2L477.4 765.4L475.5 761.1M391.4 815.8L389.5 811.5L396.7 812.8L394.7 808.4L401.9 809.7L400 805.4L407.1 806.7L405.2 802.3L412.3 803.6L410.4 799.3L417.5 800.6L415.6 796.2L422.7 797.5L420.8 793.2L427.9 794.4L426 790.1L433.1 791.4L431.2 787.1L438.3 788.3L436.4 784L443.6 785.3L441.6 781L448.8 782.2L446.9 777.9L454 779.2L452.1 774.9L459.2 776.1L457.3 771.8L464.4 773.1L462.5 768.8L469.6 770L467.7 765.7L474.8 767L472.9 762.7L480 763.9M391.4 815.8L398.6 817.1L396.7 812.8L403.8 814L401.9 809.7L409 811L407.1 806.7L414.2 807.9L412.3 803.6L419.4 804.9L417.5 800.6L424.6 801.8L422.7 797.5L429.8 798.8L427.9 794.4L435.1 795.7L433.1 791.4L440.3 792.7L438.3 788.3L445.5 789.6L443.6 785.3L450.7 786.6L448.8 782.2L455.9 783.5L454 779.2L461.1 780.5L459.2 776.1L466.3 777.4L464.4 773.1L471.5 774.3L469.6 770L476.7 771.3L474.8 767L482 768.2L480 763.9M396 818.6L394 814.3L401.2 815.6L399.3 811.2L406.4 812.5L404.5 808.2L411.6 809.5L409.7 805.1L416.8 806.4L414.9 802.1L422 803.3L420.1 799L427.2 800.3L425.3 796L432.4 797.2L430.5 792.9L437.7 794.2L435.7 789.9L442.9 791.1L441 786.8L448.1 788.1L446.2 783.8L453.3 785L451.4 780.7L458.5 782L456.6 777.7L463.7 778.9L461.8 774.6L468.9 775.9L467 771.6L474.1 772.8L472.2 768.5L479.4 769.8L477.4 765.4L484.6 766.7M396 818.6L403.1 819.9L401.2 815.6L408.3 816.8L406.4 812.5L413.5 813.8L411.6 809.5L418.7 810.7L416.8 806.4L423.9 807.7L422 803.3L429.1 804.6L427.2 800.3L434.4 801.6L432.4 797.2L439.6 798.5L437.7 794.2L444.8 795.5L442.9 791.1L450 792.4L448.1 788.1L455.2 789.4L453.3 785L460.4 786.3L458.5 782L465.6 783.2L463.7 778.9L470.8 780.2L468.9 775.9L476.1 777.1L474.1 772.8L481.3 774.1L479.4 769.8L486.5 771L484.6 766.7M400.5 821.4L398.6 817.1L405.7 818.4L403.8 814L410.9 815.3L409 811L416.1 812.2L414.2 807.9L421.3 809.2L419.4 804.9L426.5 806.1L424.6 801.8L431.8 803.1L429.8 798.8L437 800L435.1 795.7L442.2 797L440.3 792.7L447.4 793.9L445.5 789.6L452.6 790.9L450.7 786.6L457.8 787.8L455.9 783.5L463 784.8L461.1 780.5L468.2 781.7L466.3 777.4L473.4 778.7L471.5 774.3L478.7 775.6L476.7 771.3L483.9 772.6L482 768.2L489.1 769.5M400.5 821.4L407.6 822.7L405.7 818.4L412.8 819.6L410.9 815.3L418 816.6L416.1 812.2L423.2 813.5L421.3 809.2L428.5 810.5L426.5 806.1L433.7 807.4L431.8 803.1L438.9 804.4L437 800L444.1 801.3L442.2 797L449.3 798.2L447.4 793.9L454.5 795.2L452.6 790.9L459.7 792.1L457.8 787.8L464.9 789.1L463 784.8L470.1 786L468.2 781.7L475.4 783L473.4 778.7L480.6 779.9L478.7 775.6L485.8 776.9L483.9 772.6L491 773.8L489.1 769.5M405 824.2L403.1 819.9L410.2 821.1L408.3 816.8L415.4 818.1L413.5 813.8L420.6 815L418.7 810.7L425.8 812L423.9 807.7L431.1 808.9L429.1 804.6L436.3 805.9L434.4 801.6L441.5 802.8L439.6 798.5L446.7 799.8L444.8 795.5L451.9 796.7L450 792.4L457.1 793.7L455.2 789.4L462.3 790.6L460.4 786.3L467.5 787.6L465.6 783.2L472.8 784.5L470.8 780.2L478 781.5L476.1 777.1L483.2 778.4L481.3 774.1L488.4 775.4L486.5 771L493.6 772.3" stroke="#231815" stroke-width="0.5" fill="none" stroke-linejoin="round"/>
<line x1="351.7" y1="791.2" x2="440.3" y2="739.3" stroke="#fff" stroke-width="0.8" stroke-linecap="round" />
<line x1="369.8" y1="802.4" x2="458.4" y2="750.5" stroke="#fff" stroke-width="0.8" stroke-linecap="round" />
<line x1="387.8" y1="813.6" x2="476.4" y2="761.7" stroke="#fff" stroke-width="0.8" stroke-linecap="round" />
<polygon points="514.3,687.7 594.7,640.8 673.8,686.5 594.7,732.5" fill="#fff" stroke="#231815" stroke-width="1.9" stroke-linejoin="round" stroke-linecap="round" />
<path d="M514.3 687.7L516 675.2Q516.2 673.2 518 672.2L591.8 629.4Q593.6 628.4 593.8 630.4L594.7 640.8Z" fill="#fff" stroke="#231815" stroke-width="1.9" stroke-linejoin="round" stroke-linecap="round" />
<line x1="516.5" y1="685.5" x2="594" y2="641.8" stroke="#231815" stroke-width="0.9" stroke-linecap="round" />
<ellipse cx="521.8" cy="675.7" rx="1.2" ry="1.5" fill="#fff" stroke="#231815" stroke-width="0.7" transform="rotate(0 521.8 675.7)"/>
<ellipse cx="587.8" cy="638.7" rx="1.2" ry="1.5" fill="#fff" stroke="#231815" stroke-width="0.7" transform="rotate(0 587.8 638.7)"/>
<polyline points="594.7,640.8 649.8,671" fill="none" stroke="#231815" stroke-width="1.9" stroke-linejoin="round" stroke-linecap="round" />
<line x1="599.6" y1="700" x2="634" y2="664.6" stroke="#231815" stroke-width="0.9" stroke-linecap="round" />
<line x1="634" y1="664.6" x2="634" y2="679.4" stroke="#231815" stroke-width="0.9" stroke-linecap="round" />
<line x1="635.8" y1="665.4" x2="640.7" y2="676" stroke="#231815" stroke-width="0.9" stroke-linecap="round" />
<polyline points="594.7,640.8 594.7,732.5" fill="none" stroke="#231815" stroke-width="1.9" stroke-linejoin="round" stroke-linecap="round" />
<line x1="570" y1="719.7" x2="588" y2="708.6" stroke="#231815" stroke-width="0.9" stroke-linecap="round" />
<polygon points="514.3,687.7 594.7,732.5 593.9,894 514.7,849" fill="#fff" stroke="#231815" stroke-width="1.9" stroke-linejoin="round" stroke-linecap="round" />
<polygon points="594.7,732.5 673.8,686.5 674,847.6 593.9,894" fill="#fff" stroke="#231815" stroke-width="1.9" stroke-linejoin="round" stroke-linecap="round" />
<polyline points="588,720.5 594.7,732.5 673.8,686.5 673.6,672 680.5,665.4" fill="#fff" stroke="#231815" stroke-width="0.9" stroke-linejoin="round" stroke-linecap="round" />
<polyline points="673.8,672 673.8,686.5" fill="none" stroke="#231815" stroke-width="1.9" stroke-linejoin="round" stroke-linecap="round" />
<polygon points="587.8,708.6 680.5,654.7 680.5,665.4 587.8,720.5" fill="#fff" stroke="#231815" stroke-width="1.9" stroke-linejoin="round" stroke-linecap="round" />
<line x1="594.7" y1="716.2" x2="673.6" y2="671.8" stroke="#9a9a9a" stroke-width="1.6" stroke-linecap="round" />
<line x1="673.6" y1="658.5" x2="673.6" y2="671.5" stroke="#231815" stroke-width="0.9" stroke-linecap="round" />
<circle cx="602.9" cy="704.5" r="1" fill="#231815"/>
<circle cx="602.9" cy="720.8" r="1" fill="#231815"/>
<circle cx="664.6" cy="669" r="1" fill="#231815"/>
<circle cx="664.6" cy="685" r="1" fill="#231815"/>
<line x1="514.7" y1="752" x2="593.9" y2="795.8" stroke="#231815" stroke-width="0.9" stroke-linecap="round" />
<line x1="593.9" y1="795.8" x2="674" y2="749.8" stroke="#231815" stroke-width="0.9" stroke-linecap="round" />
<line x1="514.7" y1="752" x2="553" y2="710" stroke="#231815" stroke-width="0.9" stroke-linecap="round" />
<line x1="553" y1="710" x2="593.9" y2="795.8" stroke="#231815" stroke-width="0.9" stroke-linecap="round" />
<polyline points="594.7,640.8 594.7,732.5 593.9,894" fill="none" stroke="#231815" stroke-width="1.9" stroke-linejoin="round" stroke-linecap="round" />
<circle r="1" fill="#fff" stroke="#231815" stroke-width="1.9" vector-effect="non-scaling-stroke" transform="matrix(20 11.360 0 22.5 553.8 838.3)" />
<polyline points="535.7,834.4 559.7,822.4" fill="none" stroke="#231815" stroke-width="1.9" stroke-linejoin="round" stroke-linecap="round" />
<path d="M411 766.5V700C411 655 445 630 485 630C530 630 560 660 565.5 694" fill="none" stroke="#231815" stroke-width="4.8" stroke-linejoin="round" stroke-linecap="round" stroke-linecap="butt"/>
<polygon points="554.5,689.5 576.5,693.5 567.7,707.5" fill="#231815"/>
<path d="M551 686.5L565.5 694.5L580 690.5" fill="none" stroke="#fff" stroke-width="0"/>
</g>
<g id="sec_s3">
<text x="17" y="923.1" font-size="31.5" fill="#231815">3</text>
<text x="52.3" y="921.4" font-size="19.2" fill="#231815">弯折屋顶翼片的侧面，折到内侧后将另一片翼片插入</text>
<path d="M518.2 986V957.2A15 15 0 0 0 503.2 942.2H35.9A15 15 0 0 0 20.9 957.2V1214A15 15 0 0 0 35.9 1229H503.2A15 15 0 0 0 518.2 1214V1013.6" fill="none" stroke="#8a8a8a" stroke-width="5.5"/>
<path d="M511 986L584 998.4L511 1013.6" fill="none" stroke="#8a8a8a" stroke-width="5.2" stroke-linejoin="miter" stroke-miterlimit="2"/>
<polygon points="48.6,1010 116.3,971.3 182.8,1010 116.3,1049.5" fill="#fff" stroke="#231815" stroke-width="0.9" stroke-linejoin="round" stroke-linecap="round" />
<path d="M48.6 1010L49.7 1000.2Q49.9 998.6 51.3 997.8L112.8 961.4Q114.3 960.6 114.6 962.2L116.3 971.3Z" fill="#fff" stroke="#231815" stroke-width="1.9" stroke-linejoin="round" stroke-linecap="round" />
<line x1="50.5" y1="1009.2" x2="115.8" y2="972.5" stroke="#231815" stroke-width="0.9" stroke-linecap="round" />
<ellipse cx="55" cy="1000.9" rx="1.1" ry="1.4" fill="#fff" stroke="#231815" stroke-width="0.7" transform="rotate(0 55 1000.9)"/>
<ellipse cx="110.5" cy="969" rx="1.1" ry="1.4" fill="#fff" stroke="#231815" stroke-width="0.7" transform="rotate(0 110.5 969)"/>
<polyline points="116.3,971.3 162.7,997.9" fill="none" stroke="#231815" stroke-width="1.9" stroke-linejoin="round" stroke-linecap="round" />
<line x1="119.6" y1="1021.4" x2="149" y2="993" stroke="#231815" stroke-width="0.9" stroke-linecap="round" />
<line x1="149" y1="993.3" x2="149" y2="1004.7" stroke="#231815" stroke-width="0.9" stroke-linecap="round" />
<line x1="150" y1="993.5" x2="155" y2="1002" stroke="#231815" stroke-width="0.9" stroke-linecap="round" />
<polyline points="48.6,1010 116.3,1049.5" fill="none" stroke="#231815" stroke-width="1.9" stroke-linejoin="round" stroke-linecap="round" />
<polyline points="48.6,1010 48.6,1060" fill="none" stroke="#231815" stroke-width="1.9" stroke-linejoin="round" stroke-linecap="round" />
<polyline points="116.3,971.3 116.3,1060" fill="none" stroke="#231815" stroke-width="1.9" stroke-linejoin="round" stroke-linecap="round" />
<polyline points="183.5,1010 183.5,1060" fill="none" stroke="#231815" stroke-width="1.9" stroke-linejoin="round" stroke-linecap="round" />
<line x1="81.6" y1="1029" x2="52.8" y2="1060" stroke="#231815" stroke-width="0.9" stroke-linecap="round" />
<line x1="81.6" y1="1029" x2="95.3" y2="1060" stroke="#231815" stroke-width="0.9" stroke-linecap="round" />
<line x1="116.3" y1="1049.5" x2="182.4" y2="1010.8" stroke="#231815" stroke-width="0.9" stroke-linecap="round" />
<line x1="110.2" y1="1039.2" x2="116.3" y2="1049.5" stroke="#231815" stroke-width="0.9" stroke-linecap="round" />
<polygon points="109.8,1029.8 188.5,982.7 189,994 110.2,1039.6" fill="#c9caca" stroke="#231815" stroke-width="1.9" stroke-linejoin="round" stroke-linecap="round" />
<line x1="112" y1="1036.5" x2="183" y2="995.3" stroke="#777" stroke-width="1.3" stroke-linecap="round" />
<line x1="183.2" y1="986.5" x2="183.2" y2="997" stroke="#231815" stroke-width="0.9" stroke-linecap="round" />
<circle cx="123.4" cy="1025.2" r="0.9" fill="#231815"/>
<circle cx="123.4" cy="1039.6" r="0.9" fill="#231815"/>
<circle cx="176.3" cy="995" r="0.9" fill="#231815"/>
<circle cx="176.3" cy="1008.5" r="0.9" fill="#231815"/>
<path d="M82.4 1024.5C81.5 1019 85 1014.5 91 1013C93 1012.6 95 1012.6 96.8 1013L96.8 1009.2L105.2 1018.4L96.8 1020.8L96.8 1017.4C92 1016.6 87.5 1018 86 1021.5C85.2 1023.5 85.5 1026 86.5 1028Z" fill="#fff" stroke="#231815" stroke-width="1" stroke-linejoin="round"/>
<path d="M82.4 1024.5C82 1031 87 1036.5 94 1038C99 1039 104 1038 106.5 1036.5L106.5 1030C103 1032 98 1032.5 94 1031.5C88 1030 84.5 1027 83.5 1022.5Z" fill="#231815" stroke="#231815" stroke-width="0.8" stroke-linejoin="round"/>
<path d="M182.4 974.3L188.5 966.7L189.3 969.6C195 967.5 204 968.5 206.7 975.5L203 978.8C201 973.5 195 972.8 190 974.8L190.3 978Z" fill="#fff" stroke="#231815" stroke-width="1" stroke-linejoin="round"/>
<path d="M206.7 975.5C207.5 981 204 987 193.8 991.2L194.2 986.3C199.5 984.5 202.5 981.5 203 978.5Z" fill="#231815" stroke="#231815" stroke-width="0.8" stroke-linejoin="round"/>
<line x1="166.2" y1="1001.8" x2="212.3" y2="1001.8" stroke="#231815" stroke-width="1.9" stroke-linecap="round" />
<text x="217.4" y="1009.8" font-size="14.2" fill="#231815">翼片</text>
<polygon points="109,1073.7 123.6,1073.7 123.6,1089.8 131.8,1089.8 116.6,1105 101.4,1089.8 109,1089.8" fill="#fff" stroke="#231815" stroke-width="1.9" stroke-linejoin="round" stroke-linecap="round" />
<polygon points="48.8,1163.3 116.3,1123.8 184,1163 116,1201.3" fill="#fff" stroke="#231815" stroke-width="0.9" stroke-linejoin="round" stroke-linecap="round" />
<path d="M48.8 1163.3L50.2 1151.8Q50.4 1150.2 51.8 1149.4L113 1113.9Q114.5 1113.1 114.8 1114.7L116.4 1123.8Z" fill="#fff" stroke="#231815" stroke-width="1.9" stroke-linejoin="round" stroke-linecap="round" />
<line x1="50.7" y1="1162.4" x2="115.9" y2="1125" stroke="#231815" stroke-width="0.9" stroke-linecap="round" />
<ellipse cx="55.2" cy="1152.7" rx="1.1" ry="1.4" fill="#fff" stroke="#231815" stroke-width="0.7" transform="rotate(0 55.2 1152.7)"/>
<ellipse cx="110.5" cy="1121.7" rx="1.1" ry="1.4" fill="#fff" stroke="#231815" stroke-width="0.7" transform="rotate(0 110.5 1121.7)"/>
<polyline points="116.4,1123.8 168.2,1153.6" fill="none" stroke="#231815" stroke-width="1.9" stroke-linejoin="round" stroke-linecap="round" />
<line x1="150" y1="1147" x2="150" y2="1158" stroke="#231815" stroke-width="0.9" stroke-linecap="round" />
<line x1="150.5" y1="1147" x2="158" y2="1157" stroke="#231815" stroke-width="0.9" stroke-linecap="round" />
<polyline points="48.8,1163.3 114,1200.5" fill="none" stroke="#231815" stroke-width="1.9" stroke-linejoin="round" stroke-linecap="round" />
<polyline points="48.8,1163.3 48.8,1213.4" fill="none" stroke="#231815" stroke-width="1.9" stroke-linejoin="round" stroke-linecap="round" />
<polyline points="116.2,1123.8 116.2,1213.4" fill="none" stroke="#231815" stroke-width="1.9" stroke-linejoin="round" stroke-linecap="round" />
<polyline points="184.3,1163 184.3,1213.4" fill="none" stroke="#231815" stroke-width="1.9" stroke-linejoin="round" stroke-linecap="round" />
<line x1="82.3" y1="1184.6" x2="50.7" y2="1213.4" stroke="#231815" stroke-width="0.9" stroke-linecap="round" />
<line x1="82.3" y1="1184.6" x2="95.3" y2="1213.4" stroke="#231815" stroke-width="0.9" stroke-linecap="round" />
<line x1="97" y1="1190.5" x2="112" y2="1182" stroke="#231815" stroke-width="0.9" stroke-linecap="round" />
<polygon points="112.3,1189 183,1149.7 183.3,1159.8 115.8,1199.7 112.3,1197.8" fill="#c9caca" stroke="#231815" stroke-width="1.9" stroke-linejoin="round" stroke-linecap="round" />
<polyline points="112.3,1189 115.8,1190.8 183,1151.5" fill="none" stroke="#231815" stroke-width="1.2" stroke-linejoin="round" stroke-linecap="round" />
<line x1="115.8" y1="1190.8" x2="115.8" y2="1199.7" stroke="#231815" stroke-width="1.2" stroke-linecap="round" />
<circle cx="123.4" cy="1191.8" r="0.9" fill="#231815"/>
<circle cx="176" cy="1162" r="0.9" fill="#231815"/>
<path d="M127.5 1147.5C122 1151 119.5 1158 120.5 1166L117.5 1168.5L132.3 1173.7L131.6 1163L128.5 1165.5C127 1160 127.5 1155 131 1150.5Z" fill="#fff" stroke="#231815" stroke-width="1" stroke-linejoin="round"/>
<line x1="128.5" y1="1150.5" x2="126.5" y2="1160" stroke="#231815" stroke-width="0.7" stroke-linecap="round" />
<line x1="139" y1="1153.5" x2="132" y2="1162" stroke="#231815" stroke-width="0.7" stroke-linecap="round" />
<path d="M127.2 1147C130 1144.5 133 1143.7 136.7 1144C142 1144.5 146 1147 148.5 1151C152 1156.5 153.8 1163 153.8 1171.2L146.8 1174.4C147 1168 146.5 1163 145 1159C143 1154 139.5 1150 135.4 1148.4C132.5 1147.6 130 1147.8 127.5 1148.8Z" fill="#231815" stroke="#231815" stroke-width="0.8" stroke-linejoin="round"/>
<polygon points="211.4,1170 227.5,1170 227.5,1161.8 241.8,1176.4 227.5,1191.3 227.5,1183.7 211.4,1183.7" fill="#fff" stroke="#231815" stroke-width="1.9" stroke-linejoin="round" stroke-linecap="round" />
<polyline points="262.5,1210 262.5,1122.8" fill="none" stroke="#231815" stroke-width="1.9" stroke-linejoin="round" stroke-linecap="round" />
<polyline points="377.7,1188.6 377.7,1210" fill="none" stroke="#231815" stroke-width="1.9" stroke-linejoin="round" stroke-linecap="round" />
<polyline points="495.2,1121 495.2,1210" fill="none" stroke="#231815" stroke-width="1.9" stroke-linejoin="round" stroke-linecap="round" />
<polygon points="377.7,1188.6 321.8,1054 438.8,983 495.2,1121" fill="#fff" stroke="none" stroke-width="0" stroke-linejoin="round" stroke-linecap="round" />
<polyline points="438.8,983 495.2,1121" fill="none" stroke="#231815" stroke-width="1.9" stroke-linejoin="round" stroke-linecap="round" />
<line x1="262.5" y1="1122.8" x2="377.7" y2="1188.6" stroke="#231815" stroke-width="0.9" stroke-linecap="round" />
<line x1="377.7" y1="1188.6" x2="495.2" y2="1121" stroke="#231815" stroke-width="0.9" stroke-linecap="round" />
<polygon points="262.5,1122.8 292,1099.7 301,1083.2 318.4,1073.4 327.4,1075 331.5,1082.4" fill="#c9caca" stroke="#231815" stroke-width="1.9" stroke-linejoin="round" stroke-linecap="round" />
<polyline points="262.5,1122.8 292,1099.7 301,1083.2 318.4,1073.4 327.4,1075" fill="none" stroke="#231815" stroke-width="1.9" stroke-linejoin="round" stroke-linecap="round" />
<polyline points="262.5,1122.8 333,1081" fill="none" stroke="#231815" stroke-width="1.9" stroke-linejoin="round" stroke-linecap="round" />
<line x1="262.5" y1="1122.8" x2="331" y2="1085.5" stroke="#231815" stroke-width="0.9" stroke-linecap="round" />
<ellipse cx="309.3" cy="1087" rx="1.4" ry="1.8" fill="#fff" stroke="#231815" stroke-width="0.7" transform="rotate(20 309.3 1087)"/>
<polyline points="321.8,1054 377.7,1188.6" fill="none" stroke="#231815" stroke-width="1.9" stroke-linejoin="round" stroke-linecap="round" />
<polygon points="317.3,1032.2 434.2,964.8 439,967 439,983 324,1050.3 317.3,1048.7" fill="#fff" stroke="none" stroke-width="0" stroke-linejoin="round" stroke-linecap="round" />
<polyline points="324,1050.3 317.3,1048.7 317.3,1032.2 434.2,964.8 439,967 439,983" fill="none" stroke="#231815" stroke-width="1.9" stroke-linejoin="round" stroke-linecap="round" />
<polyline points="323.3,1033.9 439,967" fill="none" stroke="#231815" stroke-width="0.9" stroke-linejoin="round" stroke-linecap="round" />
<line x1="323.3" y1="1033.9" x2="323.6" y2="1050" stroke="#231815" stroke-width="0.9" stroke-linecap="round" />
<line x1="324" y1="1050.3" x2="439" y2="983" stroke="#231815" stroke-width="1.4" stroke-linecap="round" />
<ellipse cx="336.2" cy="1037.8" rx="1.2" ry="1.6" fill="#fff" stroke="#231815" stroke-width="0.7" transform="rotate(-20 336.2 1037.8)"/>
<ellipse cx="426" cy="985.5" rx="1.2" ry="1.6" fill="#fff" stroke="#231815" stroke-width="0.7" transform="rotate(-20 426 985.5)"/>
<path d="M307.8 1100.4C310.5 1106.5 316 1108.5 320.5 1106.5C326.5 1103.5 325.5 1092 320.5 1072" fill="none" stroke="#fff" stroke-width="6.6"/>
<polygon points="308.3,1072.3 317.2,1058.3 326,1072.3" fill="#231815" stroke="#fff" stroke-width="2"/>
<path d="M307.8 1100.4C310.5 1106.5 316 1108.5 320.5 1106.5C326.5 1103.5 325.5 1092 320.5 1071" fill="none" stroke="#231815" stroke-width="4.4"/>
<polygon points="308.3,1072.3 317.2,1058.3 326,1072.3" fill="#231815"/>
<polygon points="621.1,1068.3 585.8,1020.7 659.9,976.7 697,1026.8" fill="#fff" stroke="none" stroke-width="0" stroke-linejoin="round" stroke-linecap="round" />
<polygon points="548.7,1027.5 621.1,1068.3 621.1,1160.4 548.7,1118.7" fill="#fff" stroke="none" stroke-width="0" stroke-linejoin="round" stroke-linecap="round" />
<polygon points="621.1,1068.3 697,1026.8 697,1115.9 621.1,1160.4" fill="#fff" stroke="none" stroke-width="0" stroke-linejoin="round" stroke-linecap="round" />
<polyline points="548.7,1027.5 582.9,1018.8 585.8,1020.7 621.1,1068.3" fill="#fff" stroke="#231815" stroke-width="0.9" stroke-linejoin="round" stroke-linecap="round" />
<polyline points="548.7,1027.5 582.9,1018.8" fill="none" stroke="#231815" stroke-width="1.9" stroke-linejoin="round" stroke-linecap="round" />
<polyline points="548.7,1027.5 585.8,1020.7" fill="none" stroke="#231815" stroke-width="0.9" stroke-linejoin="round" stroke-linecap="round" />
<polyline points="585.8,1020.7 621.1,1068.3" fill="none" stroke="#231815" stroke-width="1.9" stroke-linejoin="round" stroke-linecap="round" />
<polyline points="659.9,976.7 697,1026.8" fill="none" stroke="#231815" stroke-width="1.9" stroke-linejoin="round" stroke-linecap="round" />
<line x1="548.7" y1="1027.5" x2="621.1" y2="1068.3" stroke="#231815" stroke-width="0.9" stroke-linecap="round" />
<line x1="621.1" y1="1068.3" x2="697" y2="1026.8" stroke="#231815" stroke-width="0.9" stroke-linecap="round" />
<polygon points="582.9,1008.6 656.9,964.6 659.9,967.6 659.9,976.7 585.8,1020.7 582.9,1018.8" fill="#fff" stroke="none" stroke-width="0" stroke-linejoin="round" stroke-linecap="round" />
<polyline points="585.8,1020.7 582.9,1018.8 582.9,1008.6 656.9,964.6 659.9,967.6 659.9,976.7" fill="none" stroke="#231815" stroke-width="1.9" stroke-linejoin="round" stroke-linecap="round" />
<polyline points="585.8,1009.7 659.9,967.6" fill="none" stroke="#231815" stroke-width="0.9" stroke-linejoin="round" stroke-linecap="round" />
<line x1="585.8" y1="1009.7" x2="585.8" y2="1020.7" stroke="#231815" stroke-width="0.9" stroke-linecap="round" />
<line x1="582.9" y1="1008.6" x2="585.8" y2="1009.7" stroke="#231815" stroke-width="0.9" stroke-linecap="round" />
<polyline points="585.8,1020.7 659.9,976.7" fill="none" stroke="#231815" stroke-width="0.9" stroke-linejoin="round" stroke-linecap="round" />
<ellipse cx="594.5" cy="1010.2" rx="0.9" ry="1.2" fill="#fff" stroke="#231815" stroke-width="0.7" transform="rotate(-20 594.5 1010.2)"/>
<ellipse cx="652.3" cy="977.4" rx="0.9" ry="1.2" fill="#fff" stroke="#231815" stroke-width="0.7" transform="rotate(-20 652.3 977.4)"/>
<polyline points="548.7,1027.5 548.7,1118.7 621.1,1160.4 697,1115.9 697,1026.8" fill="none" stroke="#231815" stroke-width="1.9" stroke-linejoin="round" stroke-linecap="round" />
<polyline points="621.1,1068.3 621.1,1160.4" fill="none" stroke="#231815" stroke-width="1.9" stroke-linejoin="round" stroke-linecap="round" />
<circle r="1" fill="#fff" stroke="#231815" stroke-width="1.9" vector-effect="non-scaling-stroke" transform="matrix(17.9 10.078 0 20.5 584.7 1108.9)" />
<clipPath id="hc3"><circle r="1" transform="matrix(17.9 10.078 0 20.5 584.7 1108.9)"/></clipPath>
<clipPath id="hc3p"><polygon points="562,1108.2 596,1091.2 615,1091 615,1140 562,1140"/></clipPath>
<g clip-path="url(#hc3)"><g clip-path="url(#hc3p)"><path d="M562.8 1076.6L606.6 1052M561 1079.7L606.6 1054.1M562.8 1080.8L606.6 1056.2M561 1083.9L606.6 1058.3M562.8 1085L606.6 1060.4M561 1088.1L606.6 1062.5M562.8 1089.2L606.6 1064.6M561 1092.3L606.6 1066.7M562.8 1093.4L606.6 1068.8M561 1096.5L606.6 1070.9M562.8 1097.6L606.6 1073M561 1100.7L606.6 1075.1M562.8 1101.8L606.6 1077.2M561 1104.9L606.6 1079.3M562.8 1106L606.6 1081.4M561 1109.1L606.6 1083.5M562.8 1110.2L606.6 1085.6M561 1113.3L606.6 1087.7M562.8 1114.4L606.6 1089.8M561 1117.5L606.6 1091.9M562.8 1118.6L606.6 1094M561 1121.7L606.6 1096.1M562.8 1122.8L606.6 1098.2M561 1125.9L606.6 1100.3M562.8 1127L606.6 1102.4M561 1130.1L606.6 1104.5M562.8 1131.2L606.6 1106.6M561 1134.3L606.6 1108.7M562.8 1135.4L606.6 1110.8M561 1138.5L606.6 1112.9M562.8 1139.6L606.6 1115M561 1142.7L606.6 1117.1M562.8 1143.8L606.6 1119.2M561 1146.9L606.6 1121.3M562.8 1148L606.6 1123.4M561 1151.1L606.6 1125.5M562.8 1152.2L606.6 1127.6M561 1155.3L606.6 1129.7M562.8 1156.4L606.6 1131.8M561 1159.5L606.6 1133.9M562.8 1160.6L606.6 1136M561 1163.7L606.6 1138.1M562.8 1164.8L606.6 1140.2" stroke="#231815" stroke-width="1.34" stroke-dasharray="2.73 0.84" fill="none"/></g></g>
<g clip-path="url(#hc3)"><line x1="562" y1="1108.2" x2="596" y2="1091.2" stroke="#231815" stroke-width="1.1" stroke-linecap="round" /></g>
<circle r="1" fill="none" stroke="#231815" stroke-width="1.9" vector-effect="non-scaling-stroke" transform="matrix(17.9 10.078 0 20.5 584.7 1108.9)" />
<rect x="557" y="970.5" width="127" height="39" rx="19.5" ry="19.5" fill="none" stroke="#231815" stroke-width="2.9" stroke-dasharray="2.8 3.3" transform="rotate(-29.5 620.5 990)"/>
</g>
<g id="sec_s4">
<text x="17.2" y="1270" font-size="30.5" fill="#231815">4</text>
<text x="52.4" y="1267.8" font-size="19.2" fill="#231815">屋顶用固定器固定</text>
<polygon points="144.4,1397.6 109.3,1350 182,1306.8 217.2,1356.5" fill="#fff" stroke="none" stroke-width="0" stroke-linejoin="round" stroke-linecap="round" />
<polygon points="72.9,1356.8 144.4,1397.6 144.4,1487 72.9,1445.8" fill="#fff" stroke="none" stroke-width="0" stroke-linejoin="round" stroke-linecap="round" />
<polygon points="144.4,1397.6 217.2,1356.5 217.4,1444.4 144.4,1487" fill="#fff" stroke="none" stroke-width="0" stroke-linejoin="round" stroke-linecap="round" />
<polyline points="72.9,1356.8 106.3,1348 109.3,1350 144.4,1397.6" fill="#fff" stroke="#231815" stroke-width="0.9" stroke-linejoin="round" stroke-linecap="round" />
<polyline points="72.9,1356.8 106.3,1348" fill="none" stroke="#231815" stroke-width="1.9" stroke-linejoin="round" stroke-linecap="round" />
<polyline points="72.9,1356.8 109.3,1350" fill="none" stroke="#231815" stroke-width="0.9" stroke-linejoin="round" stroke-linecap="round" />
<polyline points="109.3,1350 144.4,1397.6" fill="none" stroke="#231815" stroke-width="1.9" stroke-linejoin="round" stroke-linecap="round" />
<polyline points="182,1306.8 217.2,1356.5" fill="none" stroke="#231815" stroke-width="1.9" stroke-linejoin="round" stroke-linecap="round" />
<line x1="72.9" y1="1356.8" x2="144.4" y2="1397.6" stroke="#231815" stroke-width="0.9" stroke-linecap="round" />
<line x1="144.4" y1="1397.6" x2="217.2" y2="1356.5" stroke="#231815" stroke-width="0.9" stroke-linecap="round" />
<polygon points="106.3,1336.8 179.2,1294.2 182,1296.2 182,1306.8 109.3,1350 106.3,1348" fill="#fff" stroke="none" stroke-width="0" stroke-linejoin="round" stroke-linecap="round" />
<polyline points="109.3,1350 106.3,1348 106.3,1336.8 179.2,1294.2 182,1296.2 182,1306.8" fill="none" stroke="#231815" stroke-width="1.9" stroke-linejoin="round" stroke-linecap="round" />
<polyline points="109.3,1338.5 182,1296.2" fill="none" stroke="#231815" stroke-width="0.9" stroke-linejoin="round" stroke-linecap="round" />
<line x1="109.3" y1="1338.5" x2="109.3" y2="1350" stroke="#231815" stroke-width="0.9" stroke-linecap="round" />
<line x1="106.3" y1="1336.8" x2="109.3" y2="1338.5" stroke="#231815" stroke-width="0.9" stroke-linecap="round" />
<polyline points="109.3,1350 182,1306.8" fill="none" stroke="#231815" stroke-width="0.9" stroke-linejoin="round" stroke-linecap="round" />
<polyline points="72.9,1356.8 72.9,1445.8 144.4,1487 217.4,1444.4 217.2,1356.5" fill="none" stroke="#231815" stroke-width="1.9" stroke-linejoin="round" stroke-linecap="round" />
<polyline points="144.4,1397.6 144.4,1487" fill="none" stroke="#231815" stroke-width="1.9" stroke-linejoin="round" stroke-linecap="round" />
<circle r="1" fill="#fff" stroke="#231815" stroke-width="1.9" vector-effect="non-scaling-stroke" transform="matrix(18.6 10.490 0 21 108.2 1436.8)" />
<clipPath id="hc4a"><circle r="1" transform="matrix(18.6 10.490 0 21 108.2 1436.8)"/></clipPath>
<clipPath id="hc4ap"><polygon points="88,1434.5 117,1419.3 135,1419 135,1470 88,1470"/></clipPath>
<g clip-path="url(#hc4a)"><g clip-path="url(#hc4ap)"><path d="M85.6 1403.5L130.8 1378.2M84 1406.4L130.8 1380.1M85.6 1407.3L130.8 1382M84 1410.2L130.8 1383.9M85.6 1411.1L130.8 1385.8M84 1414L130.8 1387.7M85.6 1414.9L130.8 1389.6M84 1417.8L130.8 1391.5M85.6 1418.7L130.8 1393.4M84 1421.6L130.8 1395.3M85.6 1422.5L130.8 1397.2M84 1425.4L130.8 1399.1M85.6 1426.3L130.8 1401M84 1429.2L130.8 1402.9M85.6 1430.1L130.8 1404.8M84 1433L130.8 1406.7M85.6 1433.9L130.8 1408.6M84 1436.8L130.8 1410.5M85.6 1437.7L130.8 1412.4M84 1440.6L130.8 1414.3M85.6 1441.5L130.8 1416.2M84 1444.4L130.8 1418.1M85.6 1445.3L130.8 1420M84 1448.2L130.8 1421.9M85.6 1449.1L130.8 1423.8M84 1452L130.8 1425.7M85.6 1452.9L130.8 1427.6M84 1455.8L130.8 1429.5M85.6 1456.7L130.8 1431.4M84 1459.6L130.8 1433.3M85.6 1460.5L130.8 1435.2M84 1463.4L130.8 1437.1M85.6 1464.3L130.8 1439M84 1467.2L130.8 1440.9M85.6 1468.1L130.8 1442.8M84 1471L130.8 1444.7M85.6 1471.9L130.8 1446.6M84 1474.8L130.8 1448.5M85.6 1475.7L130.8 1450.4M84 1478.6L130.8 1452.3M85.6 1479.5L130.8 1454.2M84 1482.4L130.8 1456.1M85.6 1483.3L130.8 1458M84 1486.2L130.8 1459.9M85.6 1487.1L130.8 1461.8M84 1490L130.8 1463.7M85.6 1490.9L130.8 1465.6M84 1493.8L130.8 1467.5M85.6 1494.7L130.8 1469.4" stroke="#231815" stroke-width="1.22" stroke-dasharray="2.47 0.76" fill="none"/></g></g>
<g clip-path="url(#hc4a)"><line x1="88" y1="1434.5" x2="117" y2="1419.3" stroke="#231815" stroke-width="1.1" stroke-linecap="round" /></g>
<circle r="1" fill="none" stroke="#231815" stroke-width="1.9" vector-effect="non-scaling-stroke" transform="matrix(18.6 10.490 0 21 108.2 1436.8)" />
<line x1="137.5" y1="1286.7" x2="164" y2="1301.2" stroke="#231815" stroke-width="0.9" stroke-linecap="round" />
<line x1="173.7" y1="1306.8" x2="214.9" y2="1330.4" stroke="#231815" stroke-width="0.9" stroke-linecap="round" />
<line x1="81.2" y1="1320" x2="106.3" y2="1334.6" stroke="#231815" stroke-width="0.9" stroke-linecap="round" />
<line x1="118.8" y1="1339.6" x2="159" y2="1363.9" stroke="#231815" stroke-width="0.9" stroke-linecap="round" />
<circle cx="173.7" cy="1306.8" r="0.8" fill="#231815"/>
<circle cx="118.8" cy="1339.6" r="0.8" fill="#231815"/>
<ellipse cx="133.7" cy="1283.2" rx="5.2" ry="6.5" fill="#c9caca" stroke="#231815" stroke-width="1.1" transform="rotate(15 133.7 1283.2)"/>
<ellipse cx="136" cy="1284.4" rx="2" ry="2.6" fill="#fff" stroke="#231815" stroke-width="1.1" transform="rotate(15 136 1284.4)"/>
<ellipse cx="76" cy="1316.9" rx="5.3" ry="6.7" fill="#c9caca" stroke="#231815" stroke-width="1.1" transform="rotate(15 76 1316.9)"/>
<ellipse cx="78.4" cy="1318.1" rx="2" ry="2.6" fill="#fff" stroke="#231815" stroke-width="1.1" transform="rotate(15 78.4 1318.1)"/>
<line x1="213.2" y1="1329.6" x2="217" y2="1331.7" stroke="#231815" stroke-width="2.8" stroke-linecap="round" />
<ellipse cx="220.7" cy="1333.7" rx="5.2" ry="6.5" fill="#c9caca" stroke="#231815" stroke-width="1.1" transform="rotate(15 220.7 1333.7)"/>
<line x1="157.4" y1="1362.7" x2="161" y2="1364.6" stroke="#231815" stroke-width="2.8" stroke-linecap="round" />
<ellipse cx="164.7" cy="1366.2" rx="5.4" ry="6.8" fill="#c9caca" stroke="#231815" stroke-width="1.1" transform="rotate(15 164.7 1366.2)"/>
<rect x="48.2" y="1324.5" width="143" height="36.6" rx="18.3" ry="18.3" fill="none" stroke="#231815" stroke-width="2.9" stroke-dasharray="2.8 3.3" transform="rotate(29.2 119.7 1342.8)"/>
<clipPath id="tailc"><rect x="173" y="1350" width="90" height="80"/></clipPath>
<path d="M249.5 1384.9L176 1370.8L248.5 1415.6" fill="none" stroke="#8a8a8a" stroke-width="5.6" stroke-linejoin="miter" stroke-miterlimit="8" clip-path="url(#tailc)"/>
<path d="M242.3 1385V1339.7A15 15 0 0 1 257.3 1324.7H445.5A15 15 0 0 1 460.5 1339.7V1464A15 15 0 0 1 445.5 1479H257.3A15 15 0 0 1 242.3 1464V1415.5" fill="#fff" stroke="#8a8a8a" stroke-width="6"/>
<polyline points="254.3,1457.8 318,1410.7" fill="none" stroke="#231815" stroke-width="1.9" stroke-linejoin="round" stroke-linecap="round" />
<polyline points="321,1412 357.6,1471.5" fill="none" stroke="#231815" stroke-width="1.9" stroke-linejoin="round" stroke-linecap="round" />
<line x1="328" y1="1413.5" x2="351.5" y2="1471.5" stroke="#231815" stroke-width="0.9" stroke-linecap="round" />
<polygon points="318,1378.8 400,1335.7 412,1338.7 430.5,1353 327.8,1412.2 318,1408.6" fill="#fff" stroke="none" stroke-width="0" stroke-linejoin="round" stroke-linecap="round" />
<polyline points="400,1335.7 318,1378.8 318,1408.6 327.8,1412.2 430.5,1353" fill="none" stroke="#231815" stroke-width="1.9" stroke-linejoin="round" stroke-linecap="round" />
<polyline points="318,1378.8 327.8,1384.3 327.8,1412.2" fill="none" stroke="#231815" stroke-width="1.9" stroke-linejoin="round" stroke-linecap="round" />
<polyline points="327.8,1384.3 412,1338.7" fill="none" stroke="#231815" stroke-width="1.9" stroke-linejoin="round" stroke-linecap="round" />
<ellipse cx="348.5" cy="1388" rx="1.3" ry="1.7" fill="#fff" stroke="#231815" stroke-width="0.7" transform="rotate(-20 348.5 1388)"/>
<ellipse cx="285.6" cy="1359.3" rx="15.8" ry="19.2" fill="#c9caca" stroke="#231815" stroke-width="1.2" transform="rotate(15 285.6 1359.3)"/>
<ellipse cx="287.3" cy="1358.5" rx="15.8" ry="19.2" fill="#c9caca" stroke="#231815" stroke-width="1.2" transform="rotate(15 287.3 1358.5)"/>
<path d="M287 1356.8L298 1359.4A3.8 6.5 12 0 1 296.5 1372.3L287.6 1370A3.5 6.6 12 0 1 287 1356.8Z" fill="#c9caca" stroke="#231815" stroke-width="1.6" stroke-linejoin="round"/>
<ellipse cx="298.2" cy="1365.8" rx="3.6" ry="6.3" fill="#777" stroke="#231815" stroke-width="1.3" transform="rotate(12 298.2 1365.8)"/>
<ellipse cx="298.6" cy="1366" rx="1.6" ry="3.4" fill="#c9caca" stroke="none" transform="rotate(12 298.6 1366)"/>
<line x1="301" y1="1365.5" x2="321" y2="1377.3" stroke="#231815" stroke-width="0.9" stroke-linecap="round" stroke-dasharray="6 2 1.5 2"/>
<line x1="350.5" y1="1390" x2="386" y2="1408.5" stroke="#231815" stroke-width="0.9" stroke-linecap="round" stroke-dasharray="6 2 1.5 2"/>
<path d="M386.4 1404.7L397.5 1407.6L395 1419L385.3 1415.4Z" fill="#8a8a8a" stroke="#231815" stroke-width="1.3" stroke-linejoin="round"/>
<line x1="388.6" y1="1405.3" x2="387.2" y2="1416.1" stroke="#231815" stroke-width="0.8" stroke-linecap="round" />
<line x1="390.8" y1="1405.9" x2="389.2" y2="1416.8" stroke="#231815" stroke-width="0.8" stroke-linecap="round" />
<line x1="393" y1="1406.4" x2="391.1" y2="1417.6" stroke="#231815" stroke-width="0.8" stroke-linecap="round" />
<line x1="395.2" y1="1407" x2="393.1" y2="1418.3" stroke="#231815" stroke-width="0.8" stroke-linecap="round" />
<ellipse cx="408" cy="1418.6" rx="13.8" ry="19.8" fill="#c9caca" stroke="#231815" stroke-width="1.2" transform="rotate(15 408 1418.6)"/>
<ellipse cx="410.3" cy="1417.1" rx="13.8" ry="19.8" fill="#c9caca" stroke="#231815" stroke-width="1.2" transform="rotate(15 410.3 1417.1)"/>
<path d="M383 1394.5C388 1391.5 395 1393 397.5 1397.5C398.8 1400 398.8 1403 398 1405.5L395.2 1404.5C396 1402.5 396 1400.5 395 1398.8C393 1395.8 388.5 1395 384.5 1397Z" fill="#fff" stroke="#231815" stroke-width="0.9" stroke-linejoin="round"/>
<polygon points="378.5,1395.5 386,1391.5 385.5,1399.5" fill="#231815"/>
<path d="M372.5 1417C374.5 1421.5 379.5 1424.5 385 1424C388.5 1423.6 391.5 1422 393.5 1419.8L391.3 1417.8C389.5 1419.8 387.5 1420.8 385 1421C381 1421.3 377 1419.5 375.3 1416Z" fill="#fff" stroke="#231815" stroke-width="0.9" stroke-linejoin="round"/>
<polygon points="370,1410.5 378,1416 369.5,1419.5" fill="#231815"/>
<polyline points="284,1374.2 309.6,1442 396.5,1429" fill="none" stroke="#231815" stroke-width="1.9" stroke-linejoin="round" stroke-linecap="round" />
<text x="278.3" y="1461.2" font-size="14.5" fill="#231815">固定器</text>
<text x="418.75" y="1465.8" font-size="22" fill="#231815" text-anchor="middle">×</text>
<text x="431.3" y="1465.8" font-size="23.5" fill="#231815">2</text>
<polygon points="652.8,1383.5 596,1304.8 714.8,1234.2 773.6,1314.3" fill="#fff" stroke="none" stroke-width="0" stroke-linejoin="round" stroke-linecap="round" />
<polygon points="534.6,1316 652.8,1383.5 653,1531.4 534.9,1463.5" fill="#fff" stroke="none" stroke-width="0" stroke-linejoin="round" stroke-linecap="round" />
<polygon points="652.8,1383.5 773.6,1314.3 773.6,1461.7 653,1531.4" fill="#fff" stroke="none" stroke-width="0" stroke-linejoin="round" stroke-linecap="round" />
<polyline points="534.6,1316 590.8,1301.5 596,1304.8 652.8,1383.5" fill="#fff" stroke="#231815" stroke-width="0.9" stroke-linejoin="round" stroke-linecap="round" />
<polyline points="534.6,1316 590.8,1301.5" fill="none" stroke="#231815" stroke-width="1.9" stroke-linejoin="round" stroke-linecap="round" />
<polyline points="534.6,1316 596,1304.8" fill="none" stroke="#231815" stroke-width="0.9" stroke-linejoin="round" stroke-linecap="round" />
<polyline points="596,1304.8 652.8,1383.5" fill="none" stroke="#231815" stroke-width="1.9" stroke-linejoin="round" stroke-linecap="round" />
<polyline points="714.8,1234.2 773.6,1314.3" fill="none" stroke="#231815" stroke-width="1.9" stroke-linejoin="round" stroke-linecap="round" />
<line x1="534.6" y1="1316" x2="652.8" y2="1383.5" stroke="#231815" stroke-width="0.9" stroke-linecap="round" />
<line x1="652.8" y1="1383.5" x2="773.6" y2="1314.3" stroke="#231815" stroke-width="0.9" stroke-linecap="round" />
<polygon points="590.8,1284.5 710.4,1213.8 714.8,1217 714.8,1234.2 596,1304.8 590.8,1301.5" fill="#fff" stroke="none" stroke-width="0" stroke-linejoin="round" stroke-linecap="round" />
<polyline points="596,1304.8 590.8,1301.5 590.8,1284.5 710.4,1213.8 714.8,1217 714.8,1234.2" fill="none" stroke="#231815" stroke-width="1.9" stroke-linejoin="round" stroke-linecap="round" />
<polyline points="596,1287 714.8,1217" fill="none" stroke="#231815" stroke-width="0.9" stroke-linejoin="round" stroke-linecap="round" />
<line x1="596" y1="1287" x2="596" y2="1304.8" stroke="#231815" stroke-width="0.9" stroke-linecap="round" />
<line x1="590.8" y1="1284.5" x2="596" y2="1287" stroke="#231815" stroke-width="0.9" stroke-linecap="round" />
<polyline points="596,1304.8 714.8,1234.2" fill="none" stroke="#231815" stroke-width="0.9" stroke-linejoin="round" stroke-linecap="round" />
<ellipse cx="610" cy="1288.7" rx="1.4" ry="1.9" fill="#fff" stroke="#231815" stroke-width="0.7" transform="rotate(-20 610 1288.7)"/>
<ellipse cx="702.5" cy="1235" rx="1.4" ry="1.9" fill="#fff" stroke="#231815" stroke-width="0.7" transform="rotate(-20 702.5 1235)"/>
<polyline points="534.6,1316 534.9,1463.5 653,1531.4 773.6,1461.7 773.6,1314.3" fill="none" stroke="#231815" stroke-width="1.9" stroke-linejoin="round" stroke-linecap="round" />
<polyline points="652.8,1383.5 653,1531.4" fill="none" stroke="#231815" stroke-width="1.9" stroke-linejoin="round" stroke-linecap="round" />
<circle r="1" fill="#fff" stroke="#231815" stroke-width="1.9" vector-effect="non-scaling-stroke" transform="matrix(29.1 16.645 0 33.9 594.9 1448.3)" />
<clipPath id="hc4b"><circle r="1" transform="matrix(29.1 16.645 0 33.9 594.9 1448.3)"/></clipPath>
<clipPath id="hc4bp"><polygon points="560,1445.5 610,1417.5 640,1417.5 640,1500 560,1500"/></clipPath>
<g clip-path="url(#hc4b)"><g clip-path="url(#hc4bp)"><path d="M561.8 1396L628 1358.9M558.8 1401.2L628 1362.4M561.8 1403L628 1365.9M558.8 1408.2L628 1369.4M561.8 1410L628 1372.9M558.8 1415.2L628 1376.4M561.8 1417L628 1379.9M558.8 1422.2L628 1383.4M561.8 1424L628 1386.9M558.8 1429.2L628 1390.4M561.8 1431L628 1393.9M558.8 1436.2L628 1397.4M561.8 1438L628 1400.9M558.8 1443.2L628 1404.4M561.8 1445L628 1407.9M558.8 1450.2L628 1411.4M561.8 1452L628 1414.9M558.8 1457.2L628 1418.4M561.8 1459L628 1421.9M558.8 1464.2L628 1425.4M561.8 1466L628 1428.9M558.8 1471.2L628 1432.4M561.8 1473L628 1435.9M558.8 1478.2L628 1439.4M561.8 1480L628 1442.9M558.8 1485.2L628 1446.4M561.8 1487L628 1449.9M558.8 1492.2L628 1453.4M561.8 1494L628 1456.9M558.8 1499.2L628 1460.4M561.8 1501L628 1463.9M558.8 1506.2L628 1467.4M561.8 1508L628 1470.9M558.8 1513.2L628 1474.4M561.8 1515L628 1477.9M558.8 1520.2L628 1481.4M561.8 1522L628 1484.9M558.8 1527.2L628 1488.4M561.8 1529L628 1491.9M558.8 1534.2L628 1495.4M561.8 1536L628 1498.9" stroke="#231815" stroke-width="2.24" stroke-dasharray="4.55 1.40" fill="none"/></g></g>
<g clip-path="url(#hc4b)"><line x1="560" y1="1445.5" x2="610" y2="1417.5" stroke="#231815" stroke-width="1.1" stroke-linecap="round" /></g>
<circle r="1" fill="none" stroke="#231815" stroke-width="1.9" vector-effect="non-scaling-stroke" transform="matrix(29.1 16.645 0 33.9 594.9 1448.3)" />
<rect x="54" y="1500.2" width="403.8" height="100" fill="#fff" stroke="#231815" stroke-width="5.4"/>
<path d="M91.3 1520.6L112.8 1559H69.8Z" fill="none" stroke="#231815" stroke-width="3.1" stroke-linejoin="round"/>
<path d="M88.5 1532.3A2.85 2.7 0 0 1 94.1 1532.3L92.7 1547.6A1.4 1.4 0 0 1 89.9 1547.6Z" fill="#231815"/>
<circle cx="91.3" cy="1552.3" r="2.7" fill="#231815"/>
<text x="128.3" y="1526.5" font-size="21.8" font-weight="500" fill="#231815">使用前请务必确认各部位是否</text>
<text x="128.3" y="1547.8" font-size="21.7" font-weight="500" fill="#231815">存在松动或连接不良</text>
<text x="128.4" y="1569.3" font-family="Liberation Sans, sans-serif" font-size="17.5" fill="#231815" text-anchor="start" font-weight="normal" textLength="315.5" lengthAdjust="spacing" letter-spacing="-0.56">Make sure to check each part for looseness</text>
<text x="128.4" y="1587.3" font-family="Liberation Sans, sans-serif" font-size="17.5" fill="#231815" text-anchor="start" font-weight="normal" textLength="219" lengthAdjust="spacing" letter-spacing="-0.63">or poor connection before use.</text>
</g>
</svg>
</body></html>
